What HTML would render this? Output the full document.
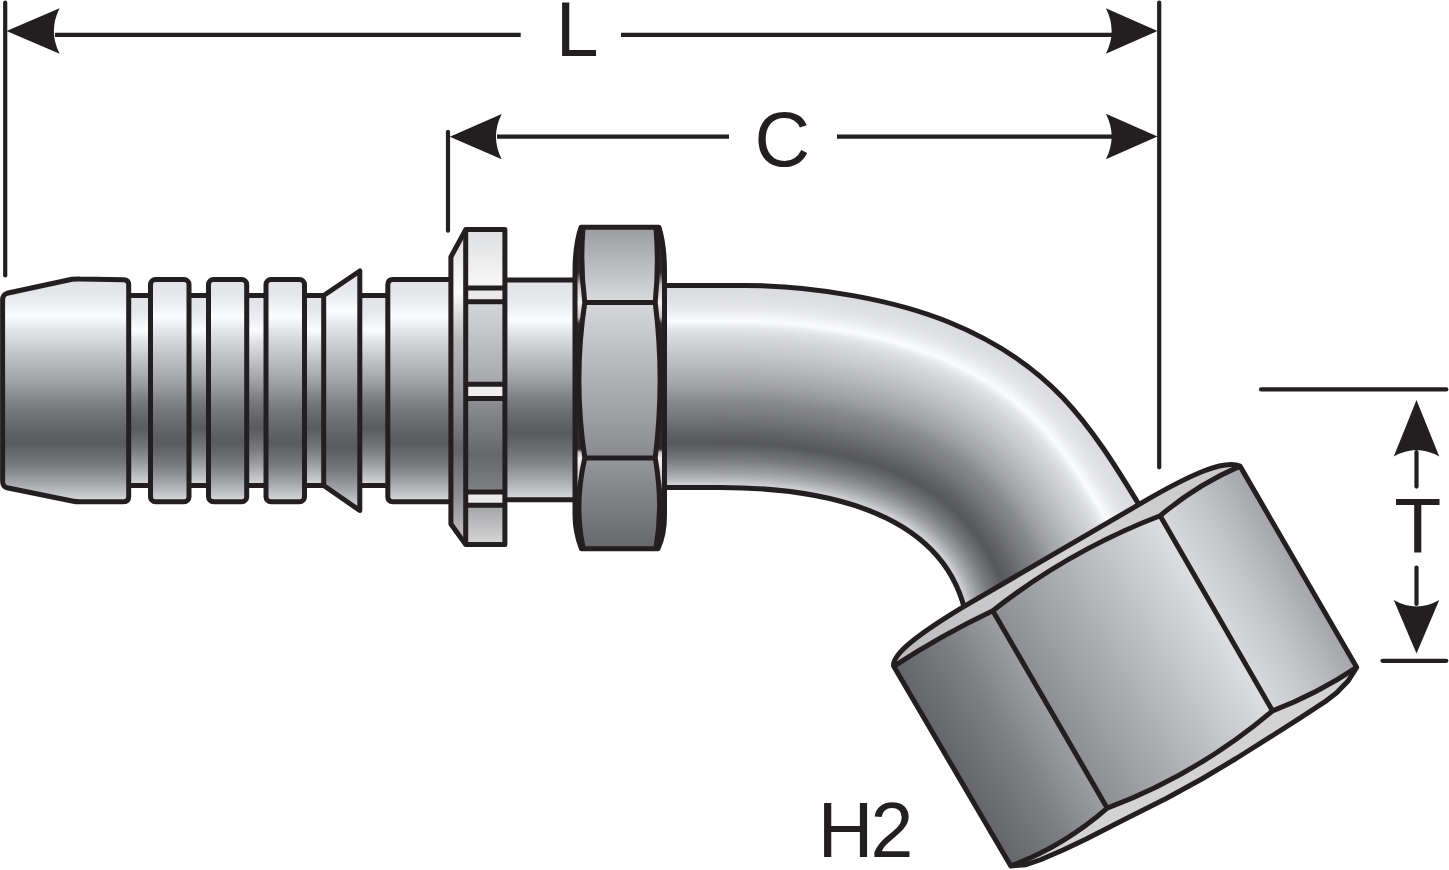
<!DOCTYPE html>
<html><head><meta charset="utf-8"><style>
html,body{margin:0;padding:0;background:#fff;width:1449px;height:870px;overflow:hidden}
svg{display:block}
</style></head><body>
<svg width="1449" height="870" viewBox="0 0 1449 870">
<defs><linearGradient id="cyl" x1="0" y1="0" x2="0" y2="1"><stop offset="0.0000" stop-color="#e1e2e5"/><stop offset="0.0700" stop-color="#e6e7ea"/><stop offset="0.1150" stop-color="#eeeff2"/><stop offset="0.1650" stop-color="#fcfdff"/><stop offset="0.1850" stop-color="#f5f6f9"/><stop offset="0.2270" stop-color="#e4e5e8"/><stop offset="0.2720" stop-color="#d7d8db"/><stop offset="0.3170" stop-color="#c9cacd"/><stop offset="0.3620" stop-color="#bcbdc0"/><stop offset="0.4070" stop-color="#b0b1b4"/><stop offset="0.4520" stop-color="#a3a4a7"/><stop offset="0.4970" stop-color="#959699"/><stop offset="0.5420" stop-color="#848588"/><stop offset="0.5900" stop-color="#76777a"/><stop offset="0.6400" stop-color="#6b6c6f"/><stop offset="0.6900" stop-color="#616265"/><stop offset="0.7350" stop-color="#5a5b5e"/><stop offset="0.7900" stop-color="#6a6b6e"/><stop offset="0.8350" stop-color="#7a7b7e"/><stop offset="0.8800" stop-color="#919295"/><stop offset="0.9250" stop-color="#abacaf"/><stop offset="0.9700" stop-color="#c7c8cb"/><stop offset="1.0000" stop-color="#dbdcdf"/></linearGradient>
<linearGradient id="groove" x1="0" y1="0" x2="0" y2="1"><stop offset="0.0000" stop-color="#e1e2e5"/><stop offset="0.0764" stop-color="#e6e7ea"/><stop offset="0.1255" stop-color="#eeeff2"/><stop offset="0.1800" stop-color="#fcfdff"/><stop offset="0.1982" stop-color="#f5f6f9"/><stop offset="0.2364" stop-color="#e4e5e8"/><stop offset="0.2773" stop-color="#d7d8db"/><stop offset="0.3182" stop-color="#c9cacd"/><stop offset="0.3591" stop-color="#bcbdc0"/><stop offset="0.4000" stop-color="#b0b1b4"/><stop offset="0.4409" stop-color="#a3a4a7"/><stop offset="0.4818" stop-color="#959699"/><stop offset="0.5227" stop-color="#848588"/><stop offset="0.5664" stop-color="#76777a"/><stop offset="0.6118" stop-color="#6b6c6f"/><stop offset="0.6573" stop-color="#616265"/><stop offset="0.6982" stop-color="#5a5b5e"/><stop offset="0.7605" stop-color="#6a6b6e"/><stop offset="0.8118" stop-color="#7a7b7e"/><stop offset="0.8631" stop-color="#919295"/><stop offset="0.9144" stop-color="#abacaf"/><stop offset="0.9658" stop-color="#c7c8cb"/><stop offset="1.0000" stop-color="#dbdcdf"/></linearGradient>
<linearGradient id="tubeL" gradientUnits="userSpaceOnUse" x1="0" y1="285.5" x2="0" y2="487.5"><stop offset="0.0000" stop-color="#d9dadd"/><stop offset="0.0300" stop-color="#dcdde0"/><stop offset="0.0750" stop-color="#e0e1e4"/><stop offset="0.1200" stop-color="#e9eaed"/><stop offset="0.1780" stop-color="#fbfcff"/><stop offset="0.1980" stop-color="#edeef1"/><stop offset="0.2200" stop-color="#e2e3e6"/><stop offset="0.2700" stop-color="#d4d5d8"/><stop offset="0.3200" stop-color="#cacbce"/><stop offset="0.3700" stop-color="#bfc0c3"/><stop offset="0.4200" stop-color="#b3b4b7"/><stop offset="0.4700" stop-color="#a8a9ac"/><stop offset="0.5200" stop-color="#9a9b9e"/><stop offset="0.5670" stop-color="#8a8b8e"/><stop offset="0.6200" stop-color="#7e7f82"/><stop offset="0.6660" stop-color="#737477"/><stop offset="0.7200" stop-color="#646568"/><stop offset="0.7800" stop-color="#57585b"/><stop offset="0.8200" stop-color="#67686b"/><stop offset="0.8640" stop-color="#7a7b7e"/><stop offset="0.9130" stop-color="#97989b"/><stop offset="0.9600" stop-color="#b8b9bc"/><stop offset="0.9800" stop-color="#cccdd0"/><stop offset="1.0000" stop-color="#d5d6d9"/></linearGradient>
<radialGradient id="tubeR" gradientUnits="userSpaceOnUse" cx="790.0" cy="684.0" r="398.5"><stop offset="0.4931" stop-color="#dbdcdf"/><stop offset="0.5083" stop-color="#c7c8cb"/><stop offset="0.5311" stop-color="#abacaf"/><stop offset="0.5539" stop-color="#919295"/><stop offset="0.5767" stop-color="#7a7b7e"/><stop offset="0.5995" stop-color="#6a6b6e"/><stop offset="0.6274" stop-color="#5a5b5e"/><stop offset="0.6502" stop-color="#616265"/><stop offset="0.6756" stop-color="#6b6c6f"/><stop offset="0.7009" stop-color="#76777a"/><stop offset="0.7253" stop-color="#848588"/><stop offset="0.7481" stop-color="#959699"/><stop offset="0.7709" stop-color="#a3a4a7"/><stop offset="0.7937" stop-color="#b0b1b4"/><stop offset="0.8165" stop-color="#bcbdc0"/><stop offset="0.8393" stop-color="#c9cacd"/><stop offset="0.8621" stop-color="#d7d8db"/><stop offset="0.8849" stop-color="#e4e5e8"/><stop offset="0.9062" stop-color="#f5f6f9"/><stop offset="0.9164" stop-color="#fcfdff"/><stop offset="0.9417" stop-color="#eeeff2"/><stop offset="0.9645" stop-color="#e6e7ea"/><stop offset="1.0000" stop-color="#e1e2e5"/></radialGradient>
<linearGradient id="wTop" x1="0" y1="0" x2="0" y2="1"><stop offset="0.0000" stop-color="#dedfe1"/><stop offset="1.0000" stop-color="#f8f8f8"/></linearGradient>
<linearGradient id="wMid1" x1="0" y1="0" x2="0" y2="1"><stop offset="0.0000" stop-color="#d6d7d9"/><stop offset="1.0000" stop-color="#a6a7ab"/></linearGradient>
<linearGradient id="wMid2" x1="0" y1="0" x2="0" y2="1"><stop offset="0.0000" stop-color="#8f9094"/><stop offset="0.6000" stop-color="#66676b"/><stop offset="1.0000" stop-color="#808185"/></linearGradient>
<linearGradient id="wBot" x1="0" y1="0" x2="0" y2="1"><stop offset="0.0000" stop-color="#a3a4a6"/><stop offset="1.0000" stop-color="#d7d7d8"/></linearGradient>
<linearGradient id="wCham" x1="0" y1="0" x2="0" y2="1"><stop offset="0.0000" stop-color="#dcdcdc"/><stop offset="0.1200" stop-color="#efefef"/><stop offset="0.2000" stop-color="#fafafa"/><stop offset="0.3500" stop-color="#b8b8ba"/><stop offset="0.5000" stop-color="#9a9b9e"/><stop offset="0.7000" stop-color="#636467"/><stop offset="0.8500" stop-color="#8f9093"/><stop offset="1.0000" stop-color="#c8c8ca"/></linearGradient>
<linearGradient id="hTop" x1="0" y1="0" x2="0" y2="1"><stop offset="0.0000" stop-color="#9c9da1"/><stop offset="1.0000" stop-color="#dadbdd"/></linearGradient>
<linearGradient id="hMid" x1="0" y1="0" x2="0" y2="1"><stop offset="0.0000" stop-color="#d6d7d9"/><stop offset="0.5000" stop-color="#b0b1b4"/><stop offset="1.0000" stop-color="#898a8e"/></linearGradient>
<linearGradient id="hBot" x1="0" y1="0" x2="0" y2="1"><stop offset="0.0000" stop-color="#96979b"/><stop offset="1.0000" stop-color="#67686c"/></linearGradient>
<linearGradient id="hSide" x1="0" y1="0" x2="0" y2="1"><stop offset="0.0000" stop-color="#2e2b2c"/><stop offset="0.1400" stop-color="#2e2b2c"/><stop offset="0.1800" stop-color="#c4c4c6"/><stop offset="0.2340" stop-color="#f0f0f0"/><stop offset="0.2800" stop-color="#c4c4c6"/><stop offset="0.3000" stop-color="#2e2b2c"/><stop offset="0.6900" stop-color="#2e2b2c"/><stop offset="0.7000" stop-color="#c4c4c6"/><stop offset="0.7200" stop-color="#f0f0f0"/><stop offset="0.7900" stop-color="#c4c4c6"/><stop offset="0.8200" stop-color="#2e2b2c"/><stop offset="1.0000" stop-color="#2e2b2c"/></linearGradient>
<linearGradient id="nL" gradientUnits="userSpaceOnUse" x1="0" y1="0" x2="114" y2="0"><stop offset="0.0000" stop-color="#646569"/><stop offset="0.5000" stop-color="#7c7d81"/><stop offset="1.0000" stop-color="#9e9fa3"/></linearGradient>
<linearGradient id="nM" gradientUnits="userSpaceOnUse" x1="114" y1="0" x2="306" y2="0"><stop offset="0.0000" stop-color="#8d8e91"/><stop offset="1.0000" stop-color="#dedfe1"/></linearGradient>
<linearGradient id="nR" gradientUnits="userSpaceOnUse" x1="306" y1="0" x2="400" y2="0"><stop offset="0.0000" stop-color="#d8d9db"/><stop offset="0.5000" stop-color="#c1c2c5"/><stop offset="1.0000" stop-color="#a4a5a9"/></linearGradient>
<linearGradient id="nCh" gradientUnits="userSpaceOnUse" x1="0" y1="0" x2="400" y2="0"><stop offset="0.0000" stop-color="#b8b9bb"/><stop offset="0.5000" stop-color="#d4d4d5"/><stop offset="1.0000" stop-color="#c8c8c9"/></linearGradient>
<clipPath id="tubeclip"><path d="M700,285.5 L745,285.5 C817.4,285.5 896.9,301.1 947.9,321.8 C1049.2,362.8 1088.2,420.5 1139,505 L1170,560 L990,660 L964,606 C938,504.5 807.7,487.5 720,487.5 L700,487.5 Z"/></clipPath></defs>
<rect width="1449" height="870" fill="#fff"/>
<rect x="655" y="285.5" width="61" height="202" fill="url(#tubeL)"/>
<g clip-path="url(#tubeclip)"><path d="M715.0,280.5 759.0,280.7 792.0,282.5 829.0,286.7 866.0,293.0 901.0,301.2 933.0,310.9 962.0,322.3 990.0,336.0 1013.0,349.6 1034.5,365.0 1054.3,382.0 1073.0,401.2 1092.6,425.0 1114.0,455.0 1140.0,497.0 1150.2,515.0 1143.0,519.0 1124.0,486.6 1102.4,453.0 1084.4,428.0 1067.0,407.0 1048.5,388.0 1029.0,371.3 1008.0,356.4 985.3,343.0 958.0,329.7 930.0,318.7 899.0,309.3 864.0,301.2 828.0,295.0 791.0,290.8 758.0,289.0 715.0,288.9Z" fill="#d9dadd"/><path d="M715.0,287.2 759.0,287.4 791.0,289.1 828.0,293.3 865.0,299.6 900.0,307.8 931.0,317.3 959.0,328.3 987.0,342.0 1010.0,355.7 1031.0,370.7 1050.0,387.1 1068.4,406.0 1085.7,427.0 1103.7,452.0 1125.5,486.0 1144.9,519.0 1141.6,520.0 1123.5,489.0 1101.8,455.0 1084.0,430.1 1066.6,409.0 1048.2,390.0 1029.0,373.5 1008.0,358.4 985.0,344.7 957.0,331.2 929.0,320.2 898.0,310.8 863.0,302.7 827.0,296.6 790.0,292.5 758.0,290.7 715.0,290.5Z" fill="#dadbde"/><path d="M715.0,288.9 758.0,289.0 791.0,290.8 828.0,295.0 864.0,301.2 899.0,309.3 930.0,318.7 958.0,329.7 985.3,343.0 1008.0,356.4 1029.0,371.3 1048.5,388.0 1067.0,407.0 1084.4,428.0 1102.4,453.0 1124.0,486.6 1143.0,519.0 1140.0,520.6 1121.6,489.0 1100.0,455.2 1082.6,431.0 1065.0,409.7 1047.0,391.2 1028.0,374.8 1007.0,359.8 984.0,346.1 957.0,333.0 929.0,322.0 898.0,312.6 863.0,304.4 827.0,298.3 790.0,294.2 758.0,292.4 715.0,292.2Z" fill="#dbdcdf"/><path d="M715.0,290.5 758.0,290.7 790.0,292.5 827.0,296.6 863.0,302.7 898.0,310.8 929.0,320.2 957.0,331.2 985.0,344.7 1008.0,358.4 1029.0,373.5 1048.2,390.0 1066.6,409.0 1084.0,430.1 1101.8,455.0 1123.5,489.0 1141.6,520.0 1138.9,522.0 1120.9,491.0 1099.2,457.0 1081.3,432.0 1064.0,411.1 1046.0,392.6 1026.8,376.0 1006.0,361.1 983.0,347.5 956.0,334.4 928.0,323.4 897.0,314.1 862.0,306.0 826.0,299.9 790.0,295.9 758.0,294.1 715.0,293.9Z" fill="#dcdde0"/><path d="M715.0,292.2 758.0,292.4 790.0,294.2 827.0,298.3 863.0,304.4 898.0,312.6 929.0,322.0 957.0,333.0 984.0,346.1 1007.0,359.8 1028.0,374.8 1047.0,391.2 1065.0,409.7 1082.6,431.0 1100.0,455.2 1121.6,489.0 1140.0,520.6 1137.5,523.0 1119.6,492.0 1098.0,458.1 1080.0,433.0 1063.0,412.5 1045.0,393.9 1026.0,377.5 1005.0,362.5 982.1,349.0 955.0,335.9 927.0,324.9 896.0,315.5 862.0,307.7 826.0,301.6 790.0,297.6 758.0,295.8 715.0,295.6Z" fill="#dddee1"/><path d="M715.0,293.9 758.0,294.1 790.0,295.9 826.0,299.9 862.0,306.0 897.0,314.1 928.0,323.4 956.0,334.4 983.0,347.5 1006.0,361.1 1026.8,376.0 1046.0,392.6 1064.0,411.1 1081.3,432.0 1099.2,457.0 1120.9,491.0 1138.9,522.0 1136.0,523.7 1118.3,493.0 1097.0,459.6 1079.4,435.0 1062.1,414.0 1044.0,395.3 1025.0,378.9 1004.2,364.0 982.0,350.8 955.0,337.7 927.0,326.7 896.0,317.3 862.0,309.4 826.0,303.3 790.0,299.3 758.0,297.5 715.0,297.3Z" fill="#dddee1"/><path d="M715.0,295.6 758.0,295.8 790.0,297.6 826.0,301.6 862.0,307.7 896.0,315.5 927.0,324.9 955.0,335.9 982.1,349.0 1005.0,362.5 1026.0,377.5 1045.0,393.9 1063.0,412.5 1080.0,433.0 1098.0,458.1 1119.6,492.0 1137.5,523.0 1134.2,524.0 1116.3,493.0 1095.3,460.0 1078.0,435.8 1060.8,415.0 1043.0,396.7 1023.7,380.0 1003.0,365.2 980.6,352.0 954.0,339.1 926.0,328.2 895.0,318.8 861.0,310.9 826.0,305.0 790.0,301.0 758.0,299.2 715.0,299.0Z" fill="#dedfe2"/><path d="M715.0,297.3 758.0,297.5 790.0,299.3 826.0,303.3 862.0,309.4 896.0,317.3 927.0,326.7 955.0,337.7 982.0,350.8 1004.2,364.0 1025.0,378.9 1044.0,395.3 1062.1,414.0 1079.4,435.0 1097.0,459.6 1118.3,493.0 1136.0,523.7 1132.9,525.0 1115.6,495.0 1094.7,462.0 1077.0,437.2 1060.0,416.6 1042.0,398.0 1023.0,381.6 1002.6,367.0 980.0,353.6 954.0,341.0 926.0,330.0 895.0,320.6 861.0,312.7 826.0,306.7 790.0,302.7 758.0,300.9 715.0,300.6Z" fill="#dfe0e3"/><path d="M715.0,299.0 758.0,299.2 790.0,301.0 826.0,305.0 861.0,310.9 895.0,318.8 926.0,328.2 954.0,339.1 980.6,352.0 1003.0,365.2 1023.7,380.0 1043.0,396.7 1060.8,415.0 1078.0,435.8 1095.3,460.0 1116.3,493.0 1134.2,524.0 1131.5,526.0 1114.3,496.0 1093.4,463.0 1076.0,438.6 1059.0,418.0 1041.0,399.4 1022.0,383.0 1001.0,368.0 979.0,355.0 952.1,342.0 925.0,331.4 894.0,322.0 860.0,314.2 825.0,308.3 789.0,304.3 757.0,302.5 715.0,302.3Z" fill="#e0e1e4"/><path d="M715.0,300.6 758.0,300.9 790.0,302.7 826.0,306.7 861.0,312.7 895.0,320.6 926.0,330.0 954.0,341.0 980.0,353.6 1002.6,367.0 1023.0,381.6 1042.0,398.0 1060.0,416.6 1077.0,437.2 1094.7,462.0 1115.6,495.0 1132.9,525.0 1130.0,526.7 1113.0,497.0 1092.1,464.0 1075.0,440.0 1057.7,419.0 1040.0,400.7 1021.0,384.3 1000.0,369.4 978.0,356.4 951.0,343.4 924.0,332.9 893.0,323.5 860.0,315.9 825.0,310.0 789.0,306.0 757.0,304.2 715.0,304.0Z" fill="#e1e2e5"/><path d="M715.0,302.3 757.0,302.5 789.0,304.3 825.0,308.3 860.0,314.2 894.0,322.0 925.0,331.4 952.1,342.0 979.0,355.0 1001.0,368.0 1022.0,383.0 1041.0,399.4 1059.0,418.0 1076.0,438.6 1093.4,463.0 1114.3,496.0 1131.5,526.0 1128.8,528.0 1111.7,498.0 1091.0,465.3 1073.7,441.0 1056.4,420.0 1038.9,402.0 1020.0,385.7 1000.0,371.4 977.4,358.0 951.0,345.2 923.0,334.3 892.0,325.0 859.0,317.5 824.0,311.6 789.0,307.7 757.0,305.9 715.0,305.7Z" fill="#e3e4e7"/><path d="M715.0,304.0 757.0,304.2 789.0,306.0 825.0,310.0 860.0,315.9 893.0,323.5 924.0,332.9 951.0,343.4 978.0,356.4 1000.0,369.4 1021.0,384.3 1040.0,400.7 1057.7,419.0 1075.0,440.0 1092.1,464.0 1113.0,497.0 1130.0,526.7 1127.0,528.2 1110.4,499.0 1090.2,467.0 1073.0,442.8 1055.9,422.0 1038.0,403.5 1019.0,387.1 999.0,372.8 977.0,359.7 950.8,347.0 923.0,336.1 892.8,327.0 859.0,319.2 824.0,313.3 789.0,309.4 757.0,307.6 715.0,307.4Z" fill="#e4e5e8"/><path d="M715.0,305.7 757.0,305.9 789.0,307.7 824.0,311.6 859.0,317.5 892.0,325.0 923.0,334.3 951.0,345.2 977.4,358.0 1000.0,371.4 1020.0,385.7 1038.9,402.0 1056.4,420.0 1073.7,441.0 1091.0,465.3 1111.7,498.0 1128.8,528.0 1125.5,529.0 1109.1,500.0 1088.9,468.0 1071.8,444.0 1054.6,423.0 1037.0,404.8 1018.0,388.4 998.0,374.1 976.0,361.1 950.0,348.5 923.0,337.9 893.0,328.8 859.0,320.9 824.0,315.0 789.0,311.1 757.0,309.3 715.0,309.1Z" fill="#e6e7ea"/><path d="M715.0,307.4 757.0,307.6 789.0,309.4 824.0,313.3 859.0,319.2 892.8,327.0 923.0,336.1 950.8,347.0 977.0,359.7 999.0,372.8 1019.0,387.1 1038.0,403.5 1055.9,422.0 1073.0,442.8 1090.2,467.0 1110.4,499.0 1127.0,528.2 1124.1,530.0 1107.7,501.0 1087.6,469.0 1070.5,445.0 1053.3,424.0 1035.8,406.0 1017.0,389.8 997.0,375.5 975.0,362.5 949.0,349.9 922.0,339.4 891.0,330.0 858.0,322.4 823.0,316.5 788.0,312.7 757.0,311.0 715.0,310.7Z" fill="#e7e8eb"/><path d="M715.0,309.1 757.0,309.3 789.0,311.1 824.0,315.0 859.0,320.9 893.0,328.8 923.0,337.9 950.0,348.5 976.0,361.1 998.0,374.1 1018.0,388.4 1037.0,404.8 1054.6,423.0 1071.8,444.0 1088.9,468.0 1109.1,500.0 1125.5,529.0 1122.8,531.0 1106.4,502.0 1086.3,470.0 1069.0,445.7 1052.0,425.1 1034.4,407.0 1016.0,391.1 996.0,376.9 974.0,363.9 948.0,351.4 921.0,340.8 891.0,331.8 858.0,324.2 823.0,318.3 788.0,314.4 757.0,312.7 715.0,312.4Z" fill="#e9eaed"/><path d="M715.0,310.7 757.0,311.0 788.0,312.7 823.0,316.5 858.0,322.4 891.0,330.0 922.0,339.4 949.0,349.9 975.0,362.5 997.0,375.5 1017.0,389.8 1035.8,406.0 1053.3,424.0 1070.5,445.0 1087.6,469.0 1107.7,501.0 1124.1,530.0 1121.4,532.0 1105.1,503.0 1085.0,471.0 1067.9,447.0 1051.0,426.5 1034.0,408.9 1015.0,392.5 995.0,378.2 973.0,365.3 947.0,352.8 920.0,342.3 890.0,333.3 857.0,325.7 823.0,320.0 788.0,316.1 757.0,314.4 715.0,314.1Z" fill="#ecedf0"/><path d="M715.0,312.4 757.0,312.7 788.0,314.4 823.0,318.3 858.0,324.2 891.0,331.8 921.0,340.8 948.0,351.4 974.0,363.9 996.0,376.9 1016.0,391.1 1034.4,407.0 1052.0,425.1 1069.0,445.7 1086.3,470.0 1106.4,502.0 1122.8,531.0 1120.0,532.9 1104.4,505.0 1084.3,473.0 1067.3,449.0 1050.1,428.0 1032.7,410.0 1014.2,394.0 994.6,380.0 973.0,367.2 947.0,354.6 920.0,344.1 890.0,335.0 857.0,327.4 823.0,321.7 788.0,317.8 757.0,316.1 715.0,315.8Z" fill="#eeeff2"/><path d="M715.0,314.1 757.0,314.4 788.0,316.1 823.0,320.0 857.0,325.7 890.0,333.3 920.0,342.3 947.0,352.8 973.0,365.3 995.0,378.2 1015.0,392.5 1034.0,408.9 1051.0,426.5 1067.9,447.0 1085.0,471.0 1105.1,503.0 1121.4,532.0 1118.7,534.0 1103.1,506.0 1083.1,474.0 1066.0,449.9 1049.0,429.2 1031.3,411.0 1013.0,395.2 993.0,381.0 972.0,368.6 946.0,356.0 919.0,345.5 889.0,336.5 857.0,329.2 823.0,323.4 788.0,319.5 757.0,317.7 715.0,317.5Z" fill="#f1f2f5"/><path d="M715.0,315.8 757.0,316.1 788.0,317.8 823.0,321.7 857.0,327.4 890.0,335.0 920.0,344.1 947.0,354.6 973.0,367.2 994.6,380.0 1014.2,394.0 1032.7,410.0 1050.1,428.0 1067.3,449.0 1084.3,473.0 1104.4,505.0 1120.0,532.9 1116.8,534.0 1101.1,506.0 1081.8,475.0 1064.7,451.0 1048.0,430.6 1031.0,413.0 1012.5,397.0 993.0,383.0 971.0,370.0 945.0,357.5 918.0,347.0 888.0,338.0 856.0,330.7 822.0,325.0 787.0,321.1 756.0,319.4 715.0,319.2Z" fill="#f4f5f8"/><path d="M715.0,317.5 757.0,317.7 788.0,319.5 823.0,323.4 857.0,329.2 889.0,336.5 919.0,345.5 946.0,356.0 972.0,368.6 993.0,381.0 1013.0,395.2 1031.3,411.0 1049.0,429.2 1066.0,449.9 1083.1,474.0 1103.1,506.0 1118.7,534.0 1115.4,535.0 1099.8,507.0 1080.5,476.0 1063.4,452.0 1047.0,432.0 1029.6,414.0 1011.1,398.0 991.4,384.0 970.0,371.4 944.3,359.0 918.0,348.8 888.0,339.8 856.0,332.4 822.0,326.7 787.0,322.8 756.0,321.1 715.0,320.8Z" fill="#f6f7fa"/><path d="M715.0,319.2 756.0,319.4 787.0,321.1 822.0,325.0 856.0,330.7 888.0,338.0 918.0,347.0 945.0,357.5 971.0,370.0 993.0,383.0 1012.5,397.0 1031.0,413.0 1048.0,430.6 1064.7,451.0 1081.8,475.0 1101.1,506.0 1116.8,534.0 1114.0,536.0 1098.5,508.0 1079.2,477.0 1062.1,453.0 1045.7,433.0 1028.3,415.0 1010.0,399.3 990.0,385.1 969.0,372.8 943.0,360.3 917.0,350.2 887.0,341.3 855.0,333.9 821.0,328.2 787.0,324.5 756.0,322.8 715.0,322.5Z" fill="#f9fafd"/><path d="M715.0,320.8 756.0,321.1 787.0,322.8 822.0,326.7 856.0,332.4 888.0,339.8 918.0,348.8 944.3,359.0 970.0,371.4 991.4,384.0 1011.1,398.0 1029.6,414.0 1047.0,432.0 1063.4,452.0 1080.5,476.0 1099.8,507.0 1115.4,535.0 1112.6,537.0 1097.8,510.0 1078.5,479.0 1061.6,455.0 1045.0,434.7 1028.0,417.1 1010.0,401.4 990.0,387.1 969.0,374.7 944.0,362.6 917.0,352.0 887.0,343.0 855.0,335.7 821.0,329.9 787.0,326.2 756.0,324.5 715.0,324.2Z" fill="#fafbfe"/><path d="M715.0,322.5 756.0,322.8 787.0,324.5 821.0,328.2 855.0,333.9 887.0,341.3 917.0,350.2 943.0,360.3 969.0,372.8 990.0,385.1 1010.0,399.3 1028.3,415.0 1045.7,433.0 1062.1,453.0 1079.2,477.0 1098.5,508.0 1114.0,536.0 1111.0,537.5 1095.9,510.0 1077.2,480.0 1060.3,456.0 1043.9,436.0 1027.0,418.4 1009.0,402.8 989.0,388.5 967.8,376.0 942.0,363.6 916.0,353.5 886.0,344.5 854.0,337.2 820.0,331.5 786.0,327.8 756.0,326.2 715.0,325.9Z" fill="#f4f5f8"/><path d="M715.0,324.2 756.0,324.5 787.0,326.2 821.0,329.9 855.0,335.7 887.0,343.0 917.0,352.0 944.0,362.6 969.0,374.7 990.0,387.1 1010.0,401.4 1028.0,417.1 1045.0,434.7 1061.6,455.0 1078.5,479.0 1097.8,510.0 1112.6,537.0 1109.9,539.0 1095.1,512.0 1076.6,482.0 1059.7,458.0 1043.0,437.5 1026.0,419.8 1008.0,404.2 988.2,390.0 967.0,377.5 942.0,365.4 915.2,355.0 886.0,346.3 854.0,338.9 820.0,333.2 786.0,329.5 756.0,327.9 715.0,327.6Z" fill="#eff0f3"/><path d="M715.0,325.9 756.0,326.2 786.0,327.8 820.0,331.5 854.0,337.2 886.0,344.5 916.0,353.5 942.0,363.6 967.8,376.0 989.0,388.5 1009.0,402.8 1027.0,418.4 1043.9,436.0 1060.3,456.0 1077.2,480.0 1095.9,510.0 1111.0,537.5 1108.5,540.0 1093.8,513.0 1075.3,483.0 1058.4,459.0 1042.0,438.8 1025.0,421.1 1007.0,405.5 988.0,391.9 966.2,379.0 941.0,366.9 915.0,356.7 886.0,348.0 854.0,340.7 820.0,334.9 786.0,331.2 756.0,329.5 715.0,329.3Z" fill="#eaebee"/><path d="M715.0,327.6 756.0,327.9 786.0,329.5 820.0,333.2 854.0,338.9 886.0,346.3 915.2,355.0 942.0,365.4 967.0,377.5 988.2,390.0 1008.0,404.2 1026.0,419.8 1043.0,437.5 1059.7,458.0 1076.6,482.0 1095.1,512.0 1109.9,539.0 1106.6,540.0 1091.9,513.0 1073.3,483.0 1057.0,459.8 1040.0,439.1 1023.0,421.6 1005.0,406.1 986.0,392.6 965.0,380.3 940.0,368.3 914.0,358.2 885.0,349.5 853.0,342.2 820.0,336.6 786.0,332.9 756.0,331.2 715.0,330.9Z" fill="#e6e7ea"/><path d="M715.0,329.3 756.0,329.5 786.0,331.2 820.0,334.9 854.0,340.7 886.0,348.0 915.0,356.7 941.0,366.9 966.2,379.0 988.0,391.9 1007.0,405.5 1025.0,421.1 1042.0,438.8 1058.4,459.0 1075.3,483.0 1093.8,513.0 1108.5,540.0 1105.3,541.0 1091.0,514.7 1072.7,485.0 1056.0,461.2 1039.5,441.0 1023.0,423.9 1005.0,408.2 986.0,394.6 964.6,382.0 940.0,370.1 914.0,360.0 885.0,351.3 853.0,343.9 820.0,338.4 786.0,334.6 756.0,332.9 715.0,332.6Z" fill="#e2e3e6"/><path d="M715.0,330.9 756.0,331.2 786.0,332.9 820.0,336.6 853.0,342.2 885.0,349.5 914.0,358.2 940.0,368.3 965.0,380.3 986.0,392.6 1005.0,406.1 1023.0,421.6 1040.0,439.1 1057.0,459.8 1073.3,483.0 1091.9,513.0 1106.6,540.0 1103.9,542.0 1089.8,516.0 1072.0,486.9 1055.3,463.0 1039.0,443.0 1022.0,425.2 1004.5,410.0 985.0,396.0 964.0,383.6 939.0,371.5 913.0,361.5 884.0,352.8 852.0,345.4 819.0,339.9 785.0,336.2 755.0,334.6 715.0,334.3Z" fill="#dfe0e3"/><path d="M715.0,332.6 756.0,332.9 786.0,334.6 820.0,338.4 853.0,343.9 885.0,351.3 914.0,360.0 940.0,370.1 964.6,382.0 986.0,394.6 1005.0,408.2 1023.0,423.9 1039.5,441.0 1056.0,461.2 1072.7,485.0 1091.0,514.7 1105.3,541.0 1102.5,543.0 1088.5,517.0 1070.7,488.0 1054.0,464.1 1037.7,444.0 1021.0,426.6 1003.1,411.0 984.0,397.4 963.0,385.0 938.0,373.0 912.0,362.9 883.0,354.3 852.0,347.2 819.0,341.6 785.0,337.9 755.0,336.3 715.0,336.0Z" fill="#dddee1"/><path d="M715.0,334.3 755.0,334.6 785.0,336.2 819.0,339.9 852.0,345.4 884.0,352.8 913.0,361.5 939.0,371.5 964.0,383.6 985.0,396.0 1004.5,410.0 1022.0,425.2 1039.0,443.0 1055.3,463.0 1072.0,486.9 1089.8,516.0 1103.9,542.0 1101.0,543.8 1087.0,517.7 1069.0,488.3 1052.7,465.0 1036.4,445.0 1020.0,427.9 1002.0,412.3 983.0,398.7 962.0,386.4 937.0,374.4 911.0,364.4 882.0,355.8 851.0,348.7 818.0,343.2 785.0,339.6 755.0,338.0 715.0,337.7Z" fill="#dbdcdf"/><path d="M715.0,336.0 755.0,336.3 785.0,337.9 819.0,341.6 852.0,347.2 883.0,354.3 912.0,362.9 938.0,373.0 963.0,385.0 984.0,397.4 1003.1,411.0 1021.0,426.6 1037.7,444.0 1054.0,464.1 1070.7,488.0 1088.5,517.0 1102.5,543.0 1099.7,545.0 1085.8,519.0 1068.1,490.0 1051.4,466.0 1035.1,446.0 1018.7,429.0 1001.0,413.7 982.0,400.1 961.4,388.0 937.0,376.2 911.0,366.2 882.0,357.5 851.0,350.4 818.0,344.9 785.0,341.3 755.0,339.7 715.0,339.4Z" fill="#d8d9dc"/><path d="M715.0,337.7 755.0,338.0 785.0,339.6 818.0,343.2 851.0,348.7 882.0,355.8 911.0,364.4 937.0,374.4 962.0,386.4 983.0,398.7 1002.0,412.3 1020.0,427.9 1036.4,445.0 1052.7,465.0 1069.0,488.3 1087.0,517.7 1101.0,543.8 1097.9,545.0 1083.9,519.0 1066.8,491.0 1050.8,468.0 1034.0,447.3 1017.3,430.0 1000.0,415.0 981.0,401.5 960.0,389.2 935.0,377.2 910.0,367.6 881.0,359.0 850.0,352.0 818.0,346.6 785.0,343.0 755.0,341.3 715.0,341.0Z" fill="#d6d7da"/><path d="M715.0,339.4 755.0,339.7 785.0,341.3 818.0,344.9 851.0,350.4 882.0,357.5 911.0,366.2 937.0,376.2 961.4,388.0 982.0,400.1 1001.0,413.7 1018.7,429.0 1035.1,446.0 1051.4,466.0 1068.1,490.0 1085.8,519.0 1099.7,545.0 1096.5,546.0 1082.6,520.0 1065.5,492.0 1049.5,469.0 1033.3,449.0 1017.0,432.0 999.0,416.4 980.2,403.0 959.8,391.0 935.0,379.1 910.0,369.4 881.0,360.8 850.0,353.7 818.0,348.3 785.0,344.7 755.0,343.0 715.0,342.7Z" fill="#d4d5d8"/><path d="M715.0,341.0 755.0,341.3 785.0,343.0 818.0,346.6 850.0,352.0 881.0,359.0 910.0,367.6 935.0,377.2 960.0,389.2 981.0,401.5 1000.0,415.0 1017.3,430.0 1034.0,447.3 1050.8,468.0 1066.8,491.0 1083.9,519.0 1097.9,545.0 1095.0,546.8 1081.3,521.0 1064.2,493.0 1048.2,470.0 1032.0,450.1 1015.6,433.0 998.3,418.0 980.0,404.9 959.0,392.5 934.0,380.5 909.0,370.9 881.0,362.5 850.0,355.4 818.0,350.0 785.0,346.4 755.0,344.7 715.0,344.4Z" fill="#d2d3d6"/><path d="M715.0,342.7 755.0,343.0 785.0,344.7 818.0,348.3 850.0,353.7 881.0,360.8 910.0,369.4 935.0,379.1 959.8,391.0 980.2,403.0 999.0,416.4 1017.0,432.0 1033.3,449.0 1049.5,469.0 1065.5,492.0 1082.6,520.0 1096.5,546.0 1093.7,548.0 1080.0,522.0 1063.0,494.1 1047.0,471.1 1031.0,451.4 1014.2,434.0 997.0,419.1 978.6,406.0 958.0,393.9 933.2,382.0 908.0,372.3 880.0,364.0 849.0,357.0 817.0,351.6 784.0,348.0 754.0,346.4 715.0,346.1Z" fill="#d1d2d5"/><path d="M715.0,344.4 755.0,344.7 785.0,346.4 818.0,350.0 850.0,355.4 881.0,362.5 909.0,370.9 934.0,380.5 959.0,392.5 980.0,404.9 998.3,418.0 1015.6,433.0 1032.0,450.1 1048.2,470.0 1064.2,493.0 1081.3,521.0 1095.0,546.8 1092.0,548.4 1078.6,523.0 1062.0,495.6 1046.0,472.6 1030.0,452.8 1013.9,436.0 996.0,420.5 977.1,407.0 957.0,395.3 933.0,383.8 908.0,374.1 880.0,365.8 849.0,358.7 817.0,353.3 784.0,349.7 754.0,348.1 715.0,347.8Z" fill="#cfd0d3"/><path d="M715.0,346.1 754.0,346.4 784.0,348.0 817.0,351.6 849.0,357.0 880.0,364.0 908.0,372.3 933.2,382.0 958.0,393.9 978.6,406.0 997.0,419.1 1014.2,434.0 1031.0,451.4 1047.0,471.1 1063.0,494.1 1080.0,522.0 1093.7,548.0 1090.9,550.0 1077.9,525.0 1061.0,497.0 1045.0,474.0 1029.0,454.2 1013.0,437.5 996.0,422.6 977.0,409.0 957.0,397.2 933.0,385.6 908.0,375.9 880.0,367.5 849.0,360.4 817.0,355.0 784.0,351.4 754.0,349.8 715.0,349.5Z" fill="#cdced1"/><path d="M715.0,347.8 754.0,348.1 784.0,349.7 817.0,353.3 849.0,358.7 880.0,365.8 908.0,374.1 933.0,383.8 957.0,395.3 977.1,407.0 996.0,420.5 1013.9,436.0 1030.0,452.8 1046.0,472.6 1062.0,495.6 1078.6,523.0 1092.0,548.4 1089.1,550.0 1076.0,525.0 1059.7,498.0 1044.0,475.4 1028.0,455.6 1012.0,438.8 995.0,424.0 976.0,410.3 956.0,398.6 932.0,387.0 907.0,377.4 879.0,369.0 848.0,361.9 816.0,356.6 784.0,353.1 754.0,351.4 715.0,351.1Z" fill="#cbcccf"/><path d="M715.0,349.5 754.0,349.8 784.0,351.4 817.0,355.0 849.0,360.4 880.0,367.5 908.0,375.9 933.0,385.6 957.0,397.2 977.0,409.0 996.0,422.6 1013.0,437.5 1029.0,454.2 1045.0,474.0 1061.0,497.0 1077.9,525.0 1090.9,550.0 1087.7,551.0 1074.6,526.0 1058.4,499.0 1043.0,476.8 1027.0,456.9 1011.0,440.2 994.0,425.3 975.4,412.0 955.0,400.0 931.0,388.5 906.0,378.8 878.0,370.5 848.0,363.7 816.0,358.3 784.0,354.8 754.0,353.1 715.0,352.8Z" fill="#cacbce"/><path d="M715.0,351.1 754.0,351.4 784.0,353.1 816.0,356.6 848.0,361.9 879.0,369.0 907.0,377.4 932.0,387.0 956.0,398.6 976.0,410.3 995.0,424.0 1012.0,438.8 1028.0,455.6 1044.0,475.4 1059.7,498.0 1076.0,525.0 1089.1,550.0 1086.3,552.0 1073.3,527.0 1057.1,500.0 1041.9,478.0 1025.7,458.0 1010.0,441.5 993.0,426.7 974.0,413.1 954.0,401.4 930.0,389.9 905.0,380.3 877.0,372.0 847.0,365.2 815.0,359.9 783.0,356.4 754.0,354.8 715.0,354.5Z" fill="#c8c9cc"/><path d="M715.0,352.8 754.0,353.1 784.0,354.8 816.0,358.3 848.0,363.7 878.0,370.5 906.0,378.8 931.0,388.5 955.0,400.0 975.4,412.0 994.0,425.3 1011.0,440.2 1027.0,456.9 1043.0,476.8 1058.4,499.0 1074.6,526.0 1087.7,551.0 1084.9,553.0 1072.0,528.0 1056.0,501.3 1040.6,479.0 1024.4,459.0 1009.0,442.9 991.9,428.0 973.0,414.5 953.0,402.8 929.0,391.3 905.0,382.1 877.0,373.8 847.0,366.9 815.0,361.6 783.0,358.1 754.0,356.5 715.0,356.2Z" fill="#c6c7ca"/><path d="M715.0,354.5 754.0,354.8 783.0,356.4 815.0,359.9 847.0,365.2 877.0,372.0 905.0,380.3 930.0,389.9 954.0,401.4 974.0,413.1 993.0,426.7 1010.0,441.5 1025.7,458.0 1041.9,478.0 1057.1,500.0 1073.3,527.0 1086.3,552.0 1083.5,554.0 1071.2,530.0 1055.1,503.0 1040.0,481.0 1024.0,461.0 1008.0,444.2 991.0,429.4 973.0,416.5 953.0,404.7 930.0,393.6 905.0,383.9 877.0,375.5 847.0,368.7 815.0,363.3 783.0,359.8 754.0,358.2 715.0,357.9Z" fill="#c4c5c8"/><path d="M715.0,356.2 754.0,356.5 783.0,358.1 815.0,361.6 847.0,366.9 877.0,373.8 905.0,382.1 929.0,391.3 953.0,402.8 973.0,414.5 991.9,428.0 1009.0,442.9 1024.4,459.0 1040.6,479.0 1056.0,501.3 1072.0,528.0 1084.9,553.0 1082.0,554.8 1069.9,531.0 1054.0,504.3 1038.7,482.0 1023.0,462.4 1007.0,445.6 990.3,431.0 972.0,417.9 952.0,406.1 929.0,395.0 904.0,385.3 876.0,377.0 846.0,370.2 815.0,365.0 783.0,361.5 754.0,359.9 715.0,359.6Z" fill="#c2c3c6"/><path d="M715.0,357.9 754.0,358.2 783.0,359.8 815.0,363.3 847.0,368.7 877.0,375.5 905.0,383.9 930.0,393.6 953.0,404.7 973.0,416.5 991.0,429.4 1008.0,444.2 1024.0,461.0 1040.0,481.0 1055.1,503.0 1071.2,530.0 1083.5,554.0 1080.7,556.0 1068.5,532.0 1053.0,505.7 1038.0,483.8 1022.0,463.8 1006.0,447.0 989.0,432.1 971.0,419.2 951.0,407.5 927.0,396.0 903.0,386.8 876.0,378.8 846.0,371.9 815.0,366.7 783.0,363.2 754.0,361.6 715.0,361.2Z" fill="#c1c2c5"/><path d="M715.0,359.6 754.0,359.9 783.0,361.5 815.0,365.0 846.0,370.2 876.0,377.0 904.0,385.3 929.0,395.0 952.0,406.1 972.0,417.9 990.3,431.0 1007.0,445.6 1023.0,462.4 1038.7,482.0 1054.0,504.3 1069.9,531.0 1082.0,554.8 1078.8,556.0 1066.6,532.0 1051.2,506.0 1036.1,484.0 1020.9,465.0 1005.0,448.3 988.0,433.5 970.0,420.6 950.0,408.9 926.0,397.4 902.0,388.3 875.0,380.2 845.0,373.4 814.0,368.3 782.0,364.8 753.0,363.2 715.0,362.9Z" fill="#bfc0c3"/><path d="M715.0,361.2 754.0,361.6 783.0,363.2 815.0,366.7 846.0,371.9 876.0,378.8 903.0,386.8 927.0,396.0 951.0,407.5 971.0,419.2 989.0,432.1 1006.0,447.0 1022.0,463.8 1038.0,483.8 1053.0,505.7 1068.5,532.0 1080.7,556.0 1077.4,557.0 1065.3,533.0 1050.0,507.1 1035.0,485.3 1019.5,466.0 1004.0,449.7 987.0,434.8 969.0,422.0 949.0,410.2 925.4,399.0 901.0,389.7 874.0,381.7 844.1,375.0 813.0,369.9 782.0,366.5 753.0,364.9 715.0,364.6Z" fill="#bdbec1"/><path d="M715.0,362.9 753.0,363.2 782.0,364.8 814.0,368.3 845.0,373.4 875.0,380.2 902.0,388.3 926.0,397.4 950.0,408.9 970.0,420.6 988.0,433.5 1005.0,448.3 1020.9,465.0 1036.1,484.0 1051.2,506.0 1066.6,532.0 1078.8,556.0 1076.0,557.9 1064.0,534.0 1049.0,508.6 1034.0,486.7 1018.2,467.0 1003.0,451.0 986.0,436.2 968.0,423.3 948.7,412.0 925.0,400.7 901.0,391.5 874.0,383.5 844.0,376.7 813.0,371.6 782.0,368.2 753.0,366.6 715.0,366.3Z" fill="#bbbcbf"/><path d="M715.0,364.6 753.0,364.9 782.0,366.5 813.0,369.9 844.1,375.0 874.0,381.7 901.0,389.7 925.4,399.0 949.0,410.2 969.0,422.0 987.0,434.8 1004.0,449.7 1019.5,466.0 1035.0,485.3 1050.0,507.1 1065.3,533.0 1077.4,557.0 1074.6,559.0 1063.2,536.0 1048.0,510.0 1033.0,488.1 1017.8,469.0 1002.0,452.4 985.5,438.0 968.0,425.4 948.0,413.6 925.0,402.5 901.0,393.3 874.0,385.2 844.0,378.4 813.0,373.3 782.0,369.9 753.0,368.3 715.0,368.0Z" fill="#b9babd"/><path d="M715.0,366.3 753.0,366.6 782.0,368.2 813.0,371.6 844.0,376.7 874.0,383.5 901.0,391.5 925.0,400.7 948.7,412.0 968.0,423.3 986.0,436.2 1003.0,451.0 1018.2,467.0 1034.0,486.7 1049.0,508.6 1064.0,534.0 1076.0,557.9 1073.0,559.5 1061.3,536.0 1046.7,511.0 1031.6,489.0 1016.4,470.0 1001.0,453.8 984.1,439.0 966.0,426.1 947.0,415.0 924.0,404.0 900.0,394.8 873.0,386.7 844.0,380.2 813.0,375.0 782.0,371.6 753.0,370.0 715.0,369.7Z" fill="#b7b8bb"/><path d="M715.0,368.0 753.0,368.3 782.0,369.9 813.0,373.3 844.0,378.4 874.0,385.2 901.0,393.3 925.0,402.5 948.0,413.6 968.0,425.4 985.5,438.0 1002.0,452.4 1017.8,469.0 1033.0,488.1 1048.0,510.0 1063.2,536.0 1074.6,559.0 1071.9,561.0 1060.0,537.0 1045.4,512.0 1030.3,490.0 1015.1,471.0 999.9,455.0 983.0,440.3 965.0,427.4 946.0,416.3 923.0,405.4 899.0,396.2 872.0,388.2 843.0,381.7 812.0,376.6 781.0,373.2 753.0,371.7 715.0,371.3Z" fill="#b5b6b9"/><path d="M715.0,369.7 753.0,370.0 782.0,371.6 813.0,375.0 844.0,380.2 873.0,386.7 900.0,394.8 924.0,404.0 947.0,415.0 966.0,426.1 984.1,439.0 1001.0,453.8 1016.4,470.0 1031.6,489.0 1046.7,511.0 1061.3,536.0 1073.0,559.5 1070.0,561.0 1058.6,538.0 1044.1,513.0 1029.0,491.0 1014.0,472.3 998.5,456.0 982.0,441.6 964.3,429.0 945.0,417.7 922.0,406.8 898.0,397.7 871.0,389.7 842.0,383.2 812.0,378.3 781.0,374.9 753.0,373.4 715.0,373.0Z" fill="#b3b4b7"/><path d="M715.0,371.3 753.0,371.7 781.0,373.2 812.0,376.6 843.0,381.7 872.0,388.2 899.0,396.2 923.0,405.4 946.0,416.3 965.0,427.4 983.0,440.3 999.9,455.0 1015.1,471.0 1030.3,490.0 1045.4,512.0 1060.0,537.0 1071.9,561.0 1068.6,562.0 1057.3,539.0 1042.7,514.0 1028.0,492.3 1013.0,473.6 997.1,457.0 981.0,443.0 963.0,430.2 944.0,419.1 921.0,408.2 898.0,399.5 871.0,391.5 842.0,384.9 812.0,380.0 781.0,376.6 753.0,375.1 715.0,374.7Z" fill="#b1b2b5"/><path d="M715.0,373.0 753.0,373.4 781.0,374.9 812.0,378.3 842.0,383.2 871.0,389.7 898.0,397.7 922.0,406.8 945.0,417.7 964.3,429.0 982.0,441.6 998.5,456.0 1014.0,472.3 1029.0,491.0 1044.1,513.0 1058.6,538.0 1070.0,561.0 1067.2,563.0 1055.9,540.0 1041.4,515.0 1027.2,494.0 1012.0,475.0 996.8,459.0 980.8,445.0 963.0,432.2 943.9,421.0 921.0,410.1 898.0,401.3 871.0,393.2 842.0,386.7 812.0,381.7 781.0,378.3 753.0,376.8 715.0,376.4Z" fill="#afb0b3"/><path d="M715.0,374.7 753.0,375.1 781.0,376.6 812.0,380.0 842.0,384.9 871.0,391.5 898.0,399.5 921.0,408.2 944.0,419.1 963.0,430.2 981.0,443.0 997.1,457.0 1013.0,473.6 1028.0,492.3 1042.7,514.0 1057.3,539.0 1068.6,562.0 1065.8,564.0 1054.6,541.0 1040.8,517.0 1026.0,495.2 1011.0,476.4 995.4,460.0 979.4,446.0 962.0,433.6 943.0,422.4 920.0,411.5 897.0,402.7 870.0,394.7 841.0,388.2 811.0,383.3 780.0,379.9 752.0,378.4 715.0,378.1Z" fill="#adaeb1"/><path d="M715.0,376.4 753.0,376.8 781.0,378.3 812.0,381.7 842.0,386.7 871.0,393.2 898.0,401.3 921.0,410.1 943.9,421.0 963.0,432.2 980.8,445.0 996.8,459.0 1012.0,475.0 1027.2,494.0 1041.4,515.0 1055.9,540.0 1067.2,563.0 1064.5,565.0 1053.3,542.0 1039.5,518.0 1025.3,497.0 1010.2,478.0 995.0,461.9 979.0,447.9 961.1,435.0 942.0,423.8 919.2,413.0 896.0,404.2 870.0,396.5 841.0,389.9 811.0,385.0 780.0,381.6 752.0,380.1 715.0,379.8Z" fill="#abacaf"/><path d="M715.0,378.1 752.0,378.4 780.0,379.9 811.0,383.3 841.0,388.2 870.0,394.7 897.0,402.7 920.0,411.5 943.0,422.4 962.0,433.6 979.4,446.0 995.4,460.0 1011.0,476.4 1026.0,495.2 1040.8,517.0 1054.6,541.0 1065.8,564.0 1063.0,565.8 1051.4,542.0 1038.2,519.0 1024.0,498.0 1009.0,479.1 993.7,463.0 977.7,449.0 960.0,436.3 941.0,425.2 918.0,414.3 895.0,405.6 869.0,398.0 840.0,391.5 810.0,386.6 780.0,383.3 752.0,381.8 715.0,381.4Z" fill="#aaabae"/><path d="M715.0,379.8 752.0,380.1 780.0,381.6 811.0,385.0 841.0,389.9 870.0,396.5 896.0,404.2 919.2,413.0 942.0,423.8 961.1,435.0 979.0,447.9 995.0,461.9 1010.2,478.0 1025.3,497.0 1039.5,518.0 1053.3,542.0 1064.5,565.0 1061.7,567.0 1050.0,543.0 1037.0,520.2 1023.0,499.4 1008.4,481.0 993.4,465.0 977.5,451.0 960.0,438.3 941.0,427.2 918.0,416.2 895.0,407.4 869.0,399.7 840.0,393.2 810.0,388.3 780.0,385.0 752.0,383.5 715.0,383.1Z" fill="#a8a9ac"/><path d="M715.0,381.4 752.0,381.8 780.0,383.3 810.0,386.6 840.0,391.5 869.0,398.0 895.0,405.6 918.0,414.3 941.0,425.2 960.0,436.3 977.7,449.0 993.7,463.0 1009.0,479.1 1024.0,498.0 1038.2,519.0 1051.4,542.0 1063.0,565.8 1059.8,567.0 1048.7,544.0 1035.5,521.0 1021.4,500.0 1007.0,481.9 992.0,466.0 976.0,451.9 959.0,439.7 940.0,428.5 917.9,418.0 894.3,409.0 868.0,401.2 840.0,394.9 810.0,390.0 780.0,386.7 752.0,385.2 715.0,384.8Z" fill="#a5a6a9"/><path d="M715.0,383.1 752.0,383.5 780.0,385.0 810.0,388.3 840.0,393.2 869.0,399.7 895.0,407.4 918.0,416.2 941.0,427.2 960.0,438.3 977.5,451.0 993.4,465.0 1008.4,481.0 1023.0,499.4 1037.0,520.2 1050.0,543.0 1061.7,567.0 1058.4,568.0 1047.4,545.0 1034.2,522.0 1020.8,502.0 1006.0,483.2 991.0,467.3 975.0,453.3 958.0,441.1 939.0,429.9 917.0,419.5 894.0,410.7 868.0,403.0 839.0,396.4 809.0,391.6 779.0,388.4 751.0,386.8 715.0,386.5Z" fill="#a3a4a7"/><path d="M715.0,384.8 752.0,385.2 780.0,386.7 810.0,390.0 840.0,394.9 868.0,401.2 894.3,409.0 917.9,418.0 940.0,428.5 959.0,439.7 976.0,451.9 992.0,466.0 1007.0,481.9 1021.4,500.0 1035.5,521.0 1048.7,544.0 1059.8,567.0 1057.0,568.9 1046.0,546.0 1032.9,523.0 1019.5,503.0 1005.0,484.6 990.0,468.7 974.0,454.7 957.0,442.5 938.0,431.3 916.0,420.9 893.0,412.1 867.0,404.5 839.0,398.2 809.0,393.3 779.0,390.1 751.0,388.5 715.0,388.2Z" fill="#a1a2a5"/><path d="M715.0,386.5 751.0,386.8 779.0,388.4 809.0,391.6 839.0,396.4 868.0,403.0 894.0,410.7 917.0,419.5 939.0,429.9 958.0,441.1 975.0,453.3 991.0,467.3 1006.0,483.2 1020.8,502.0 1034.2,522.0 1047.4,545.0 1058.4,568.0 1055.7,570.0 1044.1,546.0 1031.6,524.0 1018.3,504.0 1004.0,486.0 989.0,470.1 973.0,456.0 956.0,443.8 937.0,432.7 915.0,422.3 892.0,413.6 866.0,406.0 838.0,399.7 809.0,395.0 779.0,391.7 751.0,390.2 715.0,389.9Z" fill="#9e9fa2"/><path d="M715.0,388.2 751.0,388.5 779.0,390.1 809.0,393.3 839.0,398.2 867.0,404.5 893.0,412.1 916.0,420.9 938.0,431.3 957.0,442.5 974.0,454.7 990.0,468.7 1005.0,484.6 1019.5,503.0 1032.9,523.0 1046.0,546.0 1057.0,568.9 1054.0,570.4 1042.8,547.0 1030.3,525.0 1017.0,505.0 1002.7,487.0 988.0,471.4 972.0,457.4 955.0,445.2 936.0,434.1 914.0,423.7 891.0,415.1 866.0,407.7 838.0,401.4 809.0,396.7 779.0,393.4 751.0,391.9 715.0,391.5Z" fill="#9c9da0"/><path d="M715.0,389.9 751.0,390.2 779.0,391.7 809.0,395.0 838.0,399.7 866.0,406.0 892.0,413.6 915.0,422.3 937.0,432.7 956.0,443.8 973.0,456.0 989.0,470.1 1004.0,486.0 1018.3,504.0 1031.6,524.0 1044.1,546.0 1055.7,570.0 1052.9,572.0 1041.5,548.0 1029.6,527.0 1016.4,507.0 1002.0,488.7 987.0,472.8 971.3,459.0 954.7,447.0 936.0,436.0 914.0,425.6 891.5,417.0 866.0,409.5 838.0,403.2 809.0,398.4 779.0,395.1 751.0,393.6 715.0,393.2Z" fill="#9a9b9e"/><path d="M715.0,391.5 751.0,391.9 779.0,393.4 809.0,396.7 838.0,401.4 866.0,407.7 891.0,415.1 914.0,423.7 936.0,434.1 955.0,445.2 972.0,457.4 988.0,471.4 1002.7,487.0 1017.0,505.0 1030.3,525.0 1042.8,547.0 1054.0,570.4 1051.0,572.0 1040.1,549.0 1028.0,527.5 1015.0,507.9 1000.9,490.0 986.0,474.1 971.0,460.9 954.0,448.6 935.0,437.4 913.0,427.0 890.0,418.3 865.0,411.0 837.0,404.7 808.0,400.0 778.0,396.8 751.0,395.3 715.0,394.9Z" fill="#97989b"/><path d="M715.0,393.2 751.0,393.6 779.0,395.1 809.0,398.4 838.0,403.2 866.0,409.5 891.5,417.0 914.0,425.6 936.0,436.0 954.7,447.0 971.3,459.0 987.0,472.8 1002.0,488.7 1016.4,507.0 1029.6,527.0 1041.5,548.0 1052.9,572.0 1049.7,573.0 1038.2,549.0 1026.4,528.0 1013.8,509.0 999.6,491.0 985.0,475.5 969.0,461.4 952.0,449.3 934.0,438.8 912.0,428.4 890.0,420.1 865.0,412.7 837.0,406.4 808.0,401.7 778.0,398.5 751.0,397.0 715.0,396.6Z" fill="#949598"/><path d="M715.0,394.9 751.0,395.3 778.0,396.8 808.0,400.0 837.0,404.7 865.0,411.0 890.0,418.3 913.0,427.0 935.0,437.4 954.0,448.6 971.0,460.9 986.0,474.1 1000.9,490.0 1015.0,507.9 1028.0,527.5 1040.1,549.0 1051.0,572.0 1048.3,574.0 1036.9,550.0 1025.1,529.0 1012.0,509.3 998.3,492.0 984.0,476.8 968.0,462.8 951.5,451.0 933.0,440.2 911.4,430.0 889.0,421.6 864.0,414.2 836.0,408.0 807.0,403.2 778.0,400.2 751.0,398.7 715.0,398.3Z" fill="#919295"/><path d="M715.0,396.6 751.0,397.0 778.0,398.5 808.0,401.7 837.0,406.4 865.0,412.7 890.0,420.1 912.0,428.4 934.0,438.8 952.0,449.3 969.0,461.4 985.0,475.5 999.6,491.0 1013.8,509.0 1026.4,528.0 1038.2,549.0 1049.7,573.0 1046.9,575.0 1035.5,551.0 1024.4,531.0 1011.9,512.0 997.8,494.0 983.0,478.2 968.0,465.0 951.0,452.7 932.7,442.0 911.0,431.7 889.0,423.4 864.0,416.0 836.0,409.7 807.0,405.0 778.0,401.9 751.0,400.4 715.0,400.0Z" fill="#8e8f92"/><path d="M715.0,398.3 751.0,398.7 778.0,400.2 807.0,403.2 836.0,408.0 864.0,414.2 889.0,421.6 911.4,430.0 933.0,440.2 951.5,451.0 968.0,462.8 984.0,476.8 998.3,492.0 1012.0,509.3 1025.1,529.0 1036.9,550.0 1048.3,574.0 1045.5,576.0 1034.2,552.0 1023.0,531.8 1010.0,512.2 996.5,495.0 982.0,479.5 967.0,466.3 950.0,454.1 932.0,443.5 910.0,433.1 888.0,424.8 863.0,417.5 836.0,411.4 807.0,406.7 778.0,403.6 751.0,402.0 715.0,401.6Z" fill="#8c8d90"/><path d="M715.0,400.0 751.0,400.4 778.0,401.9 807.0,405.0 836.0,409.7 864.0,416.0 889.0,423.4 911.0,431.7 932.7,442.0 951.0,452.7 968.0,465.0 983.0,478.2 997.8,494.0 1011.9,512.0 1024.4,531.0 1035.5,551.0 1046.9,575.0 1044.0,576.7 1032.8,553.0 1021.8,533.0 1009.0,513.6 995.2,496.0 981.0,480.9 966.0,467.7 949.0,455.4 931.0,444.9 909.0,434.5 887.0,426.3 862.0,419.0 835.0,412.9 807.0,408.4 778.0,405.3 751.0,403.7 715.0,403.3Z" fill="#898a8d"/><path d="M715.0,401.6 751.0,402.0 778.0,403.6 807.0,406.7 836.0,411.4 863.0,417.5 888.0,424.8 910.0,433.1 932.0,443.5 950.0,454.1 967.0,466.3 982.0,479.5 996.5,495.0 1010.0,512.2 1023.0,531.8 1034.2,552.0 1045.5,576.0 1042.8,578.0 1031.0,553.0 1020.0,533.2 1007.3,514.0 994.0,497.1 980.0,482.3 965.0,469.0 948.3,457.0 930.0,446.3 909.0,436.4 887.0,428.1 862.0,420.7 835.0,414.7 807.0,410.1 778.0,406.9 750.0,405.4 715.0,405.0Z" fill="#87888b"/><path d="M715.0,403.3 751.0,403.7 778.0,405.3 807.0,408.4 835.0,412.9 862.0,419.0 887.0,426.3 909.0,434.5 931.0,444.9 949.0,455.4 966.0,467.7 981.0,480.9 995.2,496.0 1009.0,513.6 1021.8,533.0 1032.8,553.0 1044.0,576.7 1040.9,578.0 1029.6,554.0 1019.0,534.7 1006.7,516.0 993.0,498.5 979.0,483.6 963.5,470.0 947.0,458.2 929.0,447.7 908.0,437.8 886.0,429.5 861.0,422.2 834.0,416.2 806.0,411.7 777.0,408.6 750.0,407.1 715.0,406.7Z" fill="#858689"/><path d="M715.0,405.0 750.0,405.4 778.0,406.9 807.0,410.1 835.0,414.7 862.0,420.7 887.0,428.1 909.0,436.4 930.0,446.3 948.3,457.0 965.0,469.0 980.0,482.3 994.0,497.1 1007.3,514.0 1020.0,533.2 1031.0,553.0 1042.8,578.0 1039.5,579.0 1028.3,555.0 1017.9,536.0 1005.4,517.0 992.0,499.9 978.0,485.0 963.0,471.7 946.7,460.0 928.0,449.1 907.0,439.2 885.0,431.0 860.0,423.7 834.0,417.9 806.0,413.4 777.0,410.3 750.0,408.8 715.0,408.4Z" fill="#838487"/><path d="M715.0,406.7 750.0,407.1 777.0,408.6 806.0,411.7 834.0,416.2 861.0,422.2 886.0,429.5 908.0,437.8 929.0,447.7 947.0,458.2 963.5,470.0 979.0,483.6 993.0,498.5 1006.7,516.0 1019.0,534.7 1029.6,554.0 1040.9,578.0 1038.0,579.8 1026.9,556.0 1016.6,537.0 1004.1,518.0 991.0,501.3 977.0,486.3 962.0,473.1 946.0,461.6 928.0,451.0 907.0,441.1 885.0,432.8 860.0,425.5 834.0,419.6 806.0,415.1 777.0,412.0 750.0,410.5 715.0,410.1Z" fill="#828386"/><path d="M715.0,408.4 750.0,408.8 777.0,410.3 806.0,413.4 834.0,417.9 860.0,423.7 885.0,431.0 907.0,439.2 928.0,449.1 946.7,460.0 963.0,471.7 978.0,485.0 992.0,499.9 1005.4,517.0 1017.9,536.0 1028.3,555.0 1039.5,579.0 1036.8,581.0 1025.1,556.0 1015.2,538.0 1003.0,519.2 990.0,502.6 976.0,487.7 961.0,474.4 945.0,462.9 927.0,452.4 906.0,442.5 884.0,434.2 859.2,427.0 833.0,421.2 805.0,416.7 777.0,413.7 750.0,412.1 715.0,411.7Z" fill="#808184"/><path d="M715.0,410.1 750.0,410.5 777.0,412.0 806.0,415.1 834.0,419.6 860.0,425.5 885.0,432.8 907.0,441.1 928.0,451.0 946.0,461.6 962.0,473.1 977.0,486.3 991.0,501.3 1004.1,518.0 1016.6,537.0 1026.9,556.0 1038.0,579.8 1035.0,581.3 1023.7,557.0 1013.9,539.0 1002.0,520.7 989.0,504.0 975.0,489.0 960.0,475.8 944.0,464.3 926.0,453.8 905.2,444.0 884.0,436.0 859.0,428.7 833.0,422.9 805.0,418.4 777.0,415.4 750.0,413.8 715.0,413.4Z" fill="#7e7f82"/><path d="M715.0,411.7 750.0,412.1 777.0,413.7 805.0,416.7 833.0,421.2 859.2,427.0 884.0,434.2 906.0,442.5 927.0,452.4 945.0,462.9 961.0,474.4 976.0,487.7 990.0,502.6 1003.0,519.2 1015.2,538.0 1025.1,556.0 1036.8,581.0 1034.0,583.0 1022.4,558.0 1012.6,540.0 1000.9,522.0 988.0,505.4 974.0,490.4 959.0,477.2 943.0,465.7 925.0,455.2 904.0,445.4 883.0,437.5 858.0,430.2 832.0,424.4 804.0,419.9 776.0,417.0 749.0,415.5 715.0,415.1Z" fill="#7c7d80"/><path d="M715.0,413.4 750.0,413.8 777.0,415.4 805.0,418.4 833.0,422.9 859.0,428.7 884.0,436.0 905.2,444.0 926.0,453.8 944.0,464.3 960.0,475.8 975.0,489.0 989.0,504.0 1002.0,520.7 1013.9,539.0 1023.7,557.0 1035.0,581.3 1032.1,583.0 1020.5,558.0 1011.0,540.5 999.0,522.1 986.4,506.0 973.0,491.7 958.0,478.5 942.0,467.0 924.0,456.6 903.5,447.0 882.0,438.9 858.0,432.0 831.1,426.0 804.0,421.6 776.0,418.7 749.0,417.2 715.0,416.8Z" fill="#7a7b7e"/><path d="M715.0,415.1 749.0,415.5 776.0,417.0 804.0,419.9 832.0,424.4 858.0,430.2 883.0,437.5 904.0,445.4 925.0,455.2 943.0,465.7 959.0,477.2 974.0,490.4 988.0,505.4 1000.9,522.0 1012.6,540.0 1022.4,558.0 1034.0,583.0 1030.7,584.0 1019.2,559.0 1010.0,542.0 998.3,524.0 985.9,508.0 972.0,493.1 957.2,480.0 941.0,468.4 924.0,458.5 903.9,449.0 882.0,440.7 858.0,433.7 832.0,427.9 804.0,423.4 776.0,420.4 749.0,418.9 715.0,418.5Z" fill="#78797c"/><path d="M715.0,416.8 749.0,417.2 776.0,418.7 804.0,421.6 831.1,426.0 858.0,432.0 882.0,438.9 903.5,447.0 924.0,456.6 942.0,467.0 958.0,478.5 973.0,491.7 986.4,506.0 999.0,522.1 1011.0,540.5 1020.5,558.0 1032.1,583.0 1029.4,585.0 1017.8,560.0 1008.7,543.0 997.0,525.0 984.6,509.0 971.0,494.4 956.0,481.2 940.3,470.0 923.0,459.9 902.0,450.1 881.0,442.2 857.0,435.2 831.0,429.4 804.0,425.1 776.0,422.1 749.0,420.6 715.0,420.2Z" fill="#76777a"/><path d="M715.0,418.5 749.0,418.9 776.0,420.4 804.0,423.4 832.0,427.9 858.0,433.7 882.0,440.7 903.9,449.0 924.0,458.5 941.0,468.4 957.2,480.0 972.0,493.1 985.9,508.0 998.3,524.0 1010.0,542.0 1019.2,559.0 1030.7,584.0 1028.0,586.0 1016.0,560.0 1007.0,543.4 995.8,526.0 983.3,510.0 970.0,495.8 955.0,482.6 939.0,471.2 922.0,461.3 902.0,451.9 881.0,444.0 857.0,437.0 831.0,431.2 804.0,426.8 776.0,423.8 749.0,422.3 715.0,421.8Z" fill="#747578"/><path d="M715.0,420.2 749.0,420.6 776.0,422.1 804.0,425.1 831.0,429.4 857.0,435.2 881.0,442.2 902.0,450.1 923.0,459.9 940.3,470.0 956.0,481.2 971.0,494.4 984.6,509.0 997.0,525.0 1008.7,543.0 1017.8,560.0 1029.4,585.0 1026.6,587.0 1014.6,561.0 1006.1,545.0 995.2,528.0 982.8,512.0 969.0,497.2 955.0,484.7 939.0,473.2 921.6,463.0 901.0,453.3 880.0,445.4 856.0,438.5 830.0,432.7 803.0,428.3 775.0,425.4 749.0,423.9 715.0,423.5Z" fill="#727376"/><path d="M715.0,421.8 749.0,422.3 776.0,423.8 804.0,426.8 831.0,431.2 857.0,437.0 881.0,444.0 902.0,451.9 922.0,461.3 939.0,471.2 955.0,482.6 970.0,495.8 983.3,510.0 995.8,526.0 1007.0,543.4 1016.0,560.0 1028.0,586.0 1025.0,587.6 1013.3,562.0 1004.8,546.0 993.9,529.0 981.5,513.0 968.0,498.5 953.0,485.3 937.2,474.0 920.0,464.1 900.0,454.7 879.0,446.9 855.0,439.9 829.0,434.2 802.0,429.9 775.0,427.1 749.0,425.6 715.0,425.2Z" fill="#6f7073"/><path d="M715.0,423.5 749.0,423.9 775.0,425.4 803.0,428.3 830.0,432.7 856.0,438.5 880.0,445.4 901.0,453.3 921.6,463.0 939.0,473.2 955.0,484.7 969.0,497.2 982.8,512.0 995.2,528.0 1006.1,545.0 1014.6,561.0 1026.6,587.0 1023.3,588.0 1011.9,563.0 1003.4,547.0 992.6,530.0 980.2,514.0 967.0,499.9 952.4,487.0 937.0,475.9 920.0,466.0 900.0,456.6 879.0,448.7 855.0,441.7 830.0,436.1 803.0,431.8 775.0,428.8 749.0,427.3 715.0,426.9Z" fill="#6d6e71"/><path d="M715.0,425.2 749.0,425.6 775.0,427.1 802.0,429.9 829.0,434.2 855.0,439.9 879.0,446.9 900.0,454.7 920.0,464.1 937.2,474.0 953.0,485.3 968.0,498.5 981.5,513.0 993.9,529.0 1004.8,546.0 1013.3,562.0 1025.0,587.6 1021.9,589.0 1010.6,564.0 1002.0,547.8 991.3,531.0 979.0,515.1 965.8,501.0 951.0,488.0 936.0,477.3 919.0,467.4 899.0,458.0 878.0,450.2 854.0,443.2 829.0,437.7 803.0,433.5 775.0,430.5 748.0,429.0 715.0,428.6Z" fill="#6b6c6f"/><path d="M715.0,426.9 749.0,427.3 775.0,428.8 803.0,431.8 830.0,436.1 855.0,441.7 879.0,448.7 900.0,456.6 920.0,466.0 937.0,475.9 952.4,487.0 967.0,499.9 980.2,514.0 992.6,530.0 1003.4,547.0 1011.9,563.0 1023.3,588.0 1020.6,590.0 1017.3,584.0 1008.7,564.0 1000.8,549.0 990.0,532.0 978.4,517.0 965.0,502.6 950.8,490.0 935.0,478.7 918.0,468.8 898.0,459.4 877.0,451.6 853.0,444.7 828.0,439.2 801.7,435.0 774.0,432.1 748.0,430.7 715.0,430.3Z" fill="#68696c"/><path d="M715.0,428.6 748.0,429.0 775.0,430.5 803.0,433.5 829.0,437.7 854.0,443.2 878.0,450.2 899.0,458.0 919.0,467.4 936.0,477.3 951.0,488.0 965.8,501.0 979.0,515.1 991.3,531.0 1002.0,547.8 1010.6,564.0 1021.9,589.0 1019.0,590.6 1015.9,585.0 1007.4,565.0 999.5,550.0 989.0,533.5 977.0,517.9 964.0,503.9 949.4,491.0 934.0,480.0 917.0,470.2 897.0,460.9 876.0,453.1 853.0,446.4 828.0,440.9 802.0,436.8 774.0,433.8 748.0,432.4 715.0,431.9Z" fill="#66676a"/><path d="M715.0,430.3 748.0,430.7 774.0,432.1 801.7,435.0 828.0,439.2 853.0,444.7 877.0,451.6 898.0,459.4 918.0,468.8 935.0,478.7 950.8,490.0 965.0,502.6 978.4,517.0 990.0,532.0 1000.8,549.0 1008.7,564.0 1017.3,584.0 1020.6,590.0 1017.8,592.0 1014.0,585.0 1006.0,565.9 998.0,550.7 987.4,534.0 976.0,519.2 963.0,505.3 949.0,492.9 933.9,482.0 916.8,472.0 897.0,462.7 876.0,454.9 853.0,448.2 828.0,442.7 802.0,438.5 774.0,435.5 748.0,434.0 715.0,433.6Z" fill="#646568"/><path d="M715.0,431.9 748.0,432.4 774.0,433.8 802.0,436.8 828.0,440.9 853.0,446.4 876.0,453.1 897.0,460.9 917.0,470.2 934.0,480.0 949.4,491.0 964.0,503.9 977.0,517.9 989.0,533.5 999.5,550.0 1007.4,565.0 1015.9,585.0 1019.0,590.6 1016.0,592.2 1012.6,586.0 1004.7,567.0 996.9,552.0 986.8,536.0 975.0,520.6 962.0,506.6 948.0,494.2 933.0,483.4 916.0,473.5 897.0,464.6 876.0,456.7 852.0,449.7 827.0,444.2 801.0,440.0 774.0,437.2 748.0,435.7 715.0,435.3Z" fill="#626366"/><path d="M715.0,433.6 748.0,434.0 774.0,435.5 802.0,438.5 828.0,442.7 853.0,448.2 876.0,454.9 897.0,462.7 916.8,472.0 933.9,482.0 949.0,492.9 963.0,505.3 976.0,519.2 987.4,534.0 998.0,550.7 1006.0,565.9 1014.0,585.0 1017.8,592.0 1014.5,593.0 1011.2,587.0 1002.8,567.0 995.6,553.0 985.5,537.0 974.0,522.0 961.0,508.0 947.0,495.6 932.0,484.8 915.0,474.9 896.0,466.0 875.0,458.1 852.0,451.4 827.0,445.9 801.0,441.7 774.0,438.9 748.0,437.4 715.0,437.0Z" fill="#606164"/><path d="M715.0,435.3 748.0,435.7 774.0,437.2 801.0,440.0 827.0,444.2 852.0,449.7 876.0,456.7 897.0,464.6 916.0,473.5 933.0,483.4 948.0,494.2 962.0,506.6 975.0,520.6 986.8,536.0 996.9,552.0 1004.7,567.0 1012.6,586.0 1016.0,592.2 1013.2,594.0 1009.4,587.0 1001.5,568.0 994.0,553.6 984.0,537.7 972.7,523.0 960.0,509.3 946.0,496.9 931.0,486.2 914.0,476.3 895.0,467.4 874.0,459.6 851.0,452.9 826.0,447.5 800.0,443.3 773.0,440.5 747.0,439.1 715.0,438.7Z" fill="#5e5f62"/><path d="M715.0,437.0 748.0,437.4 774.0,438.9 801.0,441.7 827.0,445.9 852.0,451.4 875.0,458.1 896.0,466.0 915.0,474.9 932.0,484.8 947.0,495.6 961.0,508.0 974.0,522.0 985.5,537.0 995.6,553.0 1002.8,567.0 1011.2,587.0 1014.5,593.0 1011.8,595.0 1007.9,588.0 999.7,568.0 992.4,554.0 982.2,538.0 971.4,524.0 958.3,510.0 944.6,498.0 930.0,487.5 913.0,477.7 894.0,468.8 873.0,461.0 850.0,454.4 826.0,449.2 800.0,445.0 773.0,442.2 747.0,440.8 715.0,440.4Z" fill="#5d5e61"/><path d="M715.0,438.7 747.0,439.1 773.0,440.5 800.0,443.3 826.0,447.5 851.0,452.9 874.0,459.6 895.0,467.4 914.0,476.3 931.0,486.2 946.0,496.9 960.0,509.3 972.7,523.0 984.0,537.7 994.0,553.6 1001.5,568.0 1009.4,587.0 1013.2,594.0 1010.4,596.0 1006.5,589.0 998.3,569.0 991.6,556.0 982.0,540.6 970.9,526.0 958.0,512.0 944.5,500.0 929.2,489.0 913.0,479.6 894.0,470.7 873.0,462.8 850.0,456.2 826.0,450.9 800.0,446.7 773.0,443.9 747.0,442.5 715.0,442.0Z" fill="#5b5c5f"/><path d="M715.0,440.4 747.0,440.8 773.0,442.2 800.0,445.0 826.0,449.2 850.0,454.4 873.0,461.0 894.0,468.8 913.0,477.7 930.0,487.5 944.6,498.0 958.3,510.0 971.4,524.0 982.2,538.0 992.4,554.0 999.7,568.0 1007.9,588.0 1011.8,595.0 1009.0,596.9 1004.7,589.0 996.9,570.0 990.0,556.5 980.3,541.0 969.6,527.0 957.0,513.4 943.0,501.0 928.0,490.3 912.0,481.0 892.8,472.0 872.0,464.3 849.0,457.7 825.0,452.4 800.0,448.4 773.0,445.6 747.0,444.1 715.0,443.7Z" fill="#595a5d"/><path d="M715.0,442.0 747.0,442.5 773.0,443.9 800.0,446.7 826.0,450.9 850.0,456.2 873.0,462.8 894.0,470.7 913.0,479.6 929.2,489.0 944.5,500.0 958.0,512.0 970.9,526.0 982.0,540.6 991.6,556.0 998.3,569.0 1006.5,589.0 1010.4,596.0 1007.7,598.0 1003.3,590.0 996.5,573.0 988.4,557.0 979.0,542.0 968.3,528.0 956.0,514.7 942.0,502.3 927.0,491.6 911.0,482.4 892.0,473.5 872.0,466.1 849.0,459.4 825.0,454.2 800.0,450.2 773.0,447.3 747.0,445.8 715.0,445.4Z" fill="#57585b"/><path d="M715.0,443.7 747.0,444.1 773.0,445.6 800.0,448.4 825.0,452.4 849.0,457.7 872.0,464.3 892.8,472.0 912.0,481.0 928.0,490.3 943.0,501.0 957.0,513.4 969.6,527.0 980.3,541.0 990.0,556.5 996.9,570.0 1004.7,589.0 1009.0,596.9 1006.0,598.4 1001.9,591.0 995.1,574.0 987.1,558.0 977.7,543.0 967.0,529.0 954.9,516.0 941.0,503.7 926.0,493.0 910.0,483.8 891.0,474.9 871.0,467.5 848.0,460.9 824.0,455.7 799.0,451.7 772.0,448.9 746.0,447.5 715.0,447.1Z" fill="#5a5b5e"/><path d="M715.0,445.4 747.0,445.8 773.0,447.3 800.0,450.2 825.0,454.2 849.0,459.4 872.0,466.1 892.0,473.5 911.0,482.4 927.0,491.6 942.0,502.3 956.0,514.7 968.3,528.0 979.0,542.0 988.4,557.0 996.5,573.0 1003.3,590.0 1007.7,598.0 1004.4,599.0 1000.0,591.0 993.8,575.0 985.8,559.0 976.4,544.0 966.0,530.4 953.6,517.0 940.0,505.1 925.0,494.4 909.0,485.2 890.0,476.4 870.0,469.0 848.0,462.7 824.0,457.4 799.0,453.4 772.0,450.6 746.0,449.2 715.0,448.8Z" fill="#5d5e61"/><path d="M715.0,447.1 746.0,447.5 772.0,448.9 799.0,451.7 824.0,455.7 848.0,460.9 871.0,467.5 891.0,474.9 910.0,483.8 926.0,493.0 941.0,503.7 954.9,516.0 967.0,529.0 977.7,543.0 987.1,558.0 995.1,574.0 1001.9,591.0 1006.0,598.4 1003.0,600.0 998.6,592.0 992.4,576.0 984.4,560.0 975.1,545.0 965.0,531.7 953.0,518.8 939.0,506.4 924.4,496.0 908.0,486.6 889.0,477.8 869.0,470.5 847.0,464.2 823.0,459.0 798.0,455.0 772.0,452.3 746.0,450.9 715.0,450.5Z" fill="#616265"/><path d="M715.0,448.8 746.0,449.2 772.0,450.6 799.0,453.4 824.0,457.4 848.0,462.7 870.0,469.0 890.0,476.4 909.0,485.2 925.0,494.4 940.0,505.1 953.6,517.0 966.0,530.4 976.4,544.0 985.8,559.0 993.8,575.0 1000.0,591.0 1004.4,599.0 1001.6,601.0 997.2,593.0 990.6,576.0 983.1,561.0 974.0,546.3 964.0,533.1 951.9,520.0 938.3,508.0 924.0,497.8 908.0,488.5 889.0,479.6 869.0,472.3 847.0,465.9 823.0,460.7 798.0,456.7 772.0,454.0 746.0,452.6 715.0,452.1Z" fill="#646568"/><path d="M715.0,450.5 746.0,450.9 772.0,452.3 798.0,455.0 823.0,459.0 847.0,464.2 869.0,470.5 889.0,477.8 908.0,486.6 924.4,496.0 939.0,506.4 953.0,518.8 965.0,531.7 975.1,545.0 984.4,560.0 992.4,576.0 998.6,592.0 1003.0,600.0 1000.0,601.5 995.3,593.0 989.2,577.0 981.8,562.0 973.2,548.0 963.0,534.5 951.0,521.4 938.0,509.9 923.0,499.1 907.0,489.9 889.0,481.5 869.0,474.0 847.0,467.7 823.0,462.4 798.0,458.4 772.0,455.7 746.0,454.2 715.0,453.8Z" fill="#67686b"/><path d="M715.0,452.1 746.0,452.6 772.0,454.0 798.0,456.7 823.0,460.7 847.0,465.9 869.0,472.3 889.0,479.6 908.0,488.5 924.0,497.8 938.3,508.0 951.9,520.0 964.0,533.1 974.0,546.3 983.1,561.0 990.6,576.0 997.2,593.0 1001.6,601.0 998.9,603.0 993.9,594.0 987.8,578.0 980.5,563.0 971.9,549.0 962.0,535.8 950.0,522.8 936.7,511.0 922.0,500.5 906.0,491.3 888.0,482.9 868.0,475.5 846.0,469.2 822.0,463.9 797.0,460.0 771.0,457.3 746.0,455.9 715.0,455.5Z" fill="#6b6c6f"/><path d="M715.0,453.8 746.0,454.2 772.0,455.7 798.0,458.4 823.0,462.4 847.0,467.7 869.0,474.0 889.0,481.5 907.0,489.9 923.0,499.1 938.0,509.9 951.0,521.4 963.0,534.5 973.2,548.0 981.8,562.0 989.2,577.0 995.3,593.0 1000.0,601.5 997.5,604.0 992.5,595.0 986.5,579.0 979.2,564.0 970.6,550.0 961.0,537.2 949.0,524.1 936.0,512.6 922.0,502.5 905.6,493.0 887.0,484.3 867.1,477.0 845.0,470.7 822.0,465.7 797.0,461.7 771.0,459.0 745.0,457.6 715.0,457.2Z" fill="#6f7073"/><path d="M715.0,455.5 746.0,455.9 771.0,457.3 797.0,460.0 822.0,463.9 846.0,469.2 868.0,475.5 888.0,482.9 906.0,491.3 922.0,500.5 936.7,511.0 950.0,522.8 962.0,535.8 971.9,549.0 980.5,563.0 987.8,578.0 993.9,594.0 998.9,603.0 995.6,604.0 990.7,595.0 985.1,580.0 977.8,565.0 969.3,551.0 959.5,538.0 947.5,525.0 934.0,513.2 920.0,503.2 904.0,494.1 886.0,485.8 866.0,478.4 844.0,472.2 821.0,467.2 797.0,463.4 771.0,460.7 745.0,459.3 715.0,458.9Z" fill="#727376"/><path d="M715.0,457.2 745.0,457.6 771.0,459.0 797.0,461.7 822.0,465.7 845.0,470.7 867.1,477.0 887.0,484.3 905.6,493.0 922.0,502.5 936.0,512.6 949.0,524.1 961.0,537.2 970.6,550.0 979.2,564.0 986.5,579.0 992.5,595.0 997.5,604.0 994.2,605.0 989.2,596.0 983.7,581.0 976.5,566.0 968.0,552.0 958.2,539.0 946.2,526.0 933.6,515.0 919.6,505.0 904.0,496.0 886.0,487.6 866.0,480.2 844.0,473.9 821.0,468.9 797.0,465.1 771.0,462.4 745.0,461.0 715.0,460.6Z" fill="#76777a"/><path d="M715.0,458.9 745.0,459.3 771.0,460.7 797.0,463.4 821.0,467.2 844.0,472.2 866.0,478.4 886.0,485.8 904.0,494.1 920.0,503.2 934.0,513.2 947.5,525.0 959.5,538.0 969.3,551.0 977.8,565.0 985.1,580.0 990.7,595.0 995.6,604.0 992.9,606.0 987.9,597.0 981.9,581.0 975.2,567.0 967.0,553.4 957.7,541.0 946.0,528.2 933.0,516.7 919.0,506.6 903.0,497.4 885.0,489.0 866.0,482.0 844.0,475.7 821.0,470.7 797.0,466.8 771.0,464.1 745.0,462.7 715.0,462.3Z" fill="#797a7d"/><path d="M715.0,460.6 745.0,461.0 771.0,462.4 797.0,465.1 821.0,468.9 844.0,473.9 866.0,480.2 886.0,487.6 904.0,496.0 919.6,505.0 933.6,515.0 946.2,526.0 958.2,539.0 968.0,552.0 976.5,566.0 983.7,581.0 989.2,596.0 994.2,605.0 991.5,607.0 986.0,597.0 980.5,582.0 973.9,568.0 966.0,554.9 956.4,542.0 945.0,529.5 932.0,518.0 918.0,508.0 902.0,498.8 884.0,490.5 865.0,483.5 843.0,477.2 820.0,472.2 796.0,468.4 770.0,465.7 745.0,464.3 715.0,463.9Z" fill="#7e7f82"/><path d="M715.0,462.3 745.0,462.7 771.0,464.1 797.0,466.8 821.0,470.7 844.0,475.7 866.0,482.0 885.0,489.0 903.0,497.4 919.0,506.6 933.0,516.7 946.0,528.2 957.7,541.0 967.0,553.4 975.2,567.0 981.9,581.0 987.9,597.0 992.9,606.0 990.0,607.8 984.6,598.0 978.7,582.0 972.0,568.0 964.1,555.0 955.1,543.0 944.0,530.9 931.0,519.4 917.0,509.4 901.0,500.2 883.0,491.9 864.0,484.9 843.0,478.9 820.0,473.9 796.0,470.1 770.0,467.4 745.0,466.0 715.0,465.6Z" fill="#838487"/><path d="M715.0,463.9 745.0,464.3 770.0,465.7 796.0,468.4 820.0,472.2 843.0,477.2 865.0,483.5 884.0,490.5 902.0,498.8 918.0,508.0 932.0,518.0 945.0,529.5 956.4,542.0 966.0,554.9 973.9,568.0 980.5,582.0 986.0,597.0 991.5,607.0 988.8,609.0 983.0,598.5 977.4,583.0 970.7,569.0 962.8,556.0 954.0,544.2 942.8,532.0 930.0,520.7 916.0,510.7 901.0,502.1 883.0,493.7 864.0,486.7 843.0,480.7 820.0,475.6 796.0,471.8 770.0,469.1 744.0,467.7 715.0,467.3Z" fill="#88898c"/><path d="M715.0,465.6 745.0,466.0 770.0,467.4 796.0,470.1 820.0,473.9 843.0,478.9 864.0,484.9 883.0,491.9 901.0,500.2 917.0,509.4 931.0,519.4 944.0,530.9 955.1,543.0 964.1,555.0 972.0,568.0 978.7,582.0 984.6,598.0 990.0,607.8 986.8,609.0 981.3,599.0 976.0,584.0 969.4,570.0 962.0,557.7 953.0,545.6 942.0,533.5 929.0,522.1 915.0,512.1 900.0,503.5 882.0,495.1 863.0,488.2 842.0,482.2 819.0,477.2 795.0,473.4 770.0,470.8 744.0,469.4 715.0,469.0Z" fill="#8d8e91"/><path d="M715.0,467.3 744.0,467.7 770.0,469.1 796.0,471.8 820.0,475.6 843.0,480.7 864.0,486.7 883.0,493.7 901.0,502.1 916.0,510.7 930.0,520.7 942.8,532.0 954.0,544.2 962.8,556.0 970.7,569.0 977.4,583.0 983.0,598.5 988.8,609.0 985.5,610.0 979.9,600.0 974.6,585.0 968.0,571.0 960.9,559.0 952.0,546.9 941.0,534.9 928.0,523.4 914.0,513.5 899.0,504.9 881.0,496.6 862.0,489.6 841.0,483.7 819.0,478.9 795.0,475.1 770.0,472.5 744.0,471.1 715.0,470.7Z" fill="#929396"/><path d="M715.0,469.0 744.0,469.4 770.0,470.8 795.0,473.4 819.0,477.2 842.0,482.2 863.0,488.2 882.0,495.1 900.0,503.5 915.0,512.1 929.0,522.1 942.0,533.5 953.0,545.6 962.0,557.7 969.4,570.0 976.0,584.0 981.3,599.0 986.8,609.0 984.0,610.9 978.1,600.0 973.2,586.0 966.7,572.0 959.6,560.0 950.7,548.0 939.8,536.0 927.0,524.8 913.0,514.8 898.0,506.3 880.0,498.0 861.0,491.1 840.0,485.2 818.0,480.4 794.0,476.7 769.0,474.1 744.0,472.7 715.0,472.4Z" fill="#97989b"/><path d="M715.0,470.7 744.0,471.1 770.0,472.5 795.0,475.1 819.0,478.9 841.0,483.7 862.0,489.6 881.0,496.6 899.0,504.9 914.0,513.5 928.0,523.4 941.0,534.9 952.0,546.9 960.9,559.0 968.0,571.0 974.6,585.0 979.9,600.0 985.5,610.0 982.7,612.0 976.6,601.0 971.8,587.0 965.4,573.0 958.0,560.5 949.4,549.0 938.4,537.0 926.0,526.1 913.0,516.8 897.7,508.0 880.0,499.8 861.0,492.9 840.0,486.9 818.0,482.2 794.0,478.4 769.0,475.8 743.0,474.4 715.0,474.0Z" fill="#9c9da0"/><path d="M715.0,472.4 744.0,472.7 769.0,474.1 794.0,476.7 818.0,480.4 840.0,485.2 861.0,491.1 880.0,498.0 898.0,506.3 913.0,514.8 927.0,524.8 939.8,536.0 950.7,548.0 959.6,560.0 966.7,572.0 973.2,586.0 978.1,600.0 984.0,610.9 981.0,612.4 975.2,602.0 970.1,587.0 964.0,573.9 957.0,562.0 948.1,550.0 937.1,538.0 925.0,527.4 911.0,517.6 896.0,509.1 879.0,501.3 860.0,494.4 839.0,488.4 817.0,483.7 794.0,480.1 769.0,477.5 743.0,476.1 715.0,475.7Z" fill="#a2a3a6"/><path d="M715.0,474.0 743.0,474.4 769.0,475.8 794.0,478.4 818.0,482.2 840.0,486.9 861.0,492.9 880.0,499.8 897.7,508.0 913.0,516.8 926.0,526.1 938.4,537.0 949.4,549.0 958.0,560.5 965.4,573.0 971.8,587.0 976.6,601.0 982.7,612.0 980.0,614.0 973.4,602.0 968.7,588.0 962.7,575.0 955.7,563.0 947.7,552.0 937.0,540.2 925.0,529.6 911.0,519.6 896.0,511.0 879.0,503.1 860.0,496.1 839.0,490.2 817.0,485.4 794.0,481.8 769.0,479.2 743.0,477.8 715.0,477.4Z" fill="#a8a9ac"/><path d="M715.0,475.7 743.0,476.1 769.0,477.5 794.0,480.1 817.0,483.7 839.0,488.4 860.0,494.4 879.0,501.3 896.0,509.1 911.0,517.6 925.0,527.4 937.1,538.0 948.1,550.0 957.0,562.0 964.0,573.9 970.1,587.0 975.2,602.0 981.0,612.4 978.6,615.0 972.0,603.0 967.3,589.0 961.4,576.0 954.4,564.0 946.4,553.0 936.0,541.6 924.0,530.9 910.1,521.0 895.0,512.4 878.0,504.5 859.0,497.6 839.0,491.9 817.0,487.1 794.0,483.5 769.0,480.9 743.0,479.5 715.0,479.1Z" fill="#aeafb2"/><path d="M715.0,477.4 743.0,477.8 769.0,479.2 794.0,481.8 817.0,485.4 839.0,490.2 860.0,496.1 879.0,503.1 896.0,511.0 911.0,519.6 925.0,529.6 937.0,540.2 947.7,552.0 955.7,563.0 962.7,575.0 968.7,588.0 973.4,602.0 980.0,614.0 976.7,615.0 970.6,604.0 965.5,589.0 960.0,576.8 953.1,565.0 945.0,553.9 935.0,542.9 922.7,532.0 909.0,522.3 894.0,513.8 877.0,506.0 858.0,499.1 838.0,493.4 816.0,488.7 793.0,485.1 768.0,482.5 743.0,481.2 715.0,480.8Z" fill="#b4b5b8"/><path d="M715.0,479.1 743.0,479.5 769.0,480.9 794.0,483.5 817.0,487.1 839.0,491.9 859.0,497.6 878.0,504.5 895.0,512.4 910.1,521.0 924.0,530.9 936.0,541.6 946.4,553.0 954.4,564.0 961.4,576.0 967.3,589.0 972.0,603.0 978.6,615.0 975.3,616.0 968.7,604.0 964.1,590.0 958.2,577.0 951.8,566.0 943.8,555.0 933.0,543.3 921.2,533.0 908.0,523.7 893.0,515.2 876.0,507.4 858.0,500.9 838.0,495.2 816.0,490.4 793.0,486.8 768.0,484.2 742.0,482.8 715.0,482.5Z" fill="#bbbcbf"/><path d="M715.0,480.8 743.0,481.2 768.0,482.5 793.0,485.1 816.0,488.7 838.0,493.4 858.0,499.1 877.0,506.0 894.0,513.8 909.0,522.3 922.7,532.0 935.0,542.9 945.0,553.9 953.1,565.0 960.0,576.8 965.5,589.0 970.6,604.0 976.7,615.0 973.9,617.0 967.3,605.0 962.7,591.0 956.9,578.0 950.5,567.0 942.5,556.0 932.4,545.0 921.0,535.0 908.0,525.7 892.9,517.0 876.0,509.2 857.0,502.3 837.0,496.7 816.0,492.1 792.0,488.4 768.0,485.9 743.0,484.5 715.0,484.1Z" fill="#c3c4c7"/><path d="M715.0,482.5 742.0,482.8 768.0,484.2 793.0,486.8 816.0,490.4 838.0,495.2 858.0,500.9 876.0,507.4 893.0,515.2 908.0,523.7 921.2,533.0 933.0,543.3 943.8,555.0 951.8,566.0 958.2,577.0 964.1,590.0 968.7,604.0 975.3,616.0 972.5,618.0 965.9,606.0 961.3,592.0 955.6,579.0 949.2,568.0 942.0,558.0 932.0,546.9 920.0,536.3 906.9,527.0 892.0,518.5 875.0,510.7 856.7,504.0 837.0,498.4 815.0,493.7 792.0,490.1 768.0,487.6 742.0,486.2 715.0,485.8Z" fill="#cbcccf"/><path d="M715.0,484.1 743.0,484.5 768.0,485.9 792.0,488.4 816.0,492.1 837.0,496.7 857.0,502.3 876.0,509.2 892.9,517.0 908.0,525.7 921.0,535.0 932.4,545.0 942.5,556.0 950.5,567.0 956.9,578.0 962.7,591.0 967.3,605.0 973.9,617.0 966.6,621.0 959.4,608.0 955.0,594.0 949.7,582.0 943.9,572.0 936.7,562.0 927.0,551.3 916.0,541.6 903.0,532.4 889.0,524.4 873.0,517.1 855.0,510.5 835.0,504.8 814.0,500.3 791.0,496.7 767.0,494.3 742.0,492.9 715.0,492.5Z" fill="#cfd0d3"/><path d="M715.0,485.8 742.0,486.2 768.0,487.6 792.0,490.1 815.0,493.7 837.0,498.4 856.7,504.0 875.0,510.7 892.0,518.5 906.9,527.0 920.0,536.3 932.0,546.9 942.0,558.0 949.2,568.0 955.6,579.0 961.3,592.0 965.9,606.0 972.5,618.0 966.6,621.0 959.4,608.0 955.0,594.0 949.7,582.0 943.9,572.0 936.7,562.0 927.0,551.3 916.0,541.6 903.0,532.4 889.0,524.4 873.0,517.1 855.0,510.5 835.0,504.8 814.0,500.3 791.0,496.7 767.0,494.3 742.0,492.9 715.0,492.5Z" fill="#d3d4d7"/></g>
<path d="M655,285.5 L745,285.5 C817.4,285.5 896.9,301.1 947.9,321.8 C1049.2,362.8 1088.2,420.5 1141,508" fill="none" stroke="#231f20" stroke-width="5.0" stroke-linejoin="round" />
<path d="M655,487.5 L720,487.5 C807.7,487.5 938,504.5 964.6,609" fill="none" stroke="#231f20" stroke-width="5.0" stroke-linejoin="round" />
<g transform="translate(893.7,666.3) rotate(-30.1)"><path d="M0.0,0.0 Q57,-3 113.6,1.6 L113.6,229.8 Q56,241 1.2,231.4 Z" fill="url(#nL)"/><path d="M113.6,1.6 Q210,-12 306.0,3.4 L305.4,228.5 Q209,245.8 113.6,229.8 Z" fill="url(#nM)"/><path d="M306.0,3.4 Q353,-5 400.0,0.5 L400.0,233.1 Q352,236.2 305.4,228.5 Z" fill="url(#nR)"/><path d="M0,0 C4,-11 35,-15.5 90,-16.5 L300,-17 C355,-17 390,-13 400,0.5 Q353,-5 306.0,3.4 Q210,-12 113.6,1.6 Q57,-3 0,0 Z" fill="url(#nCh)"/><path d="M400.0,233.1 L386.0,240.5 L370.0,245.0 L355.0,247.0 L325.0,248.5 L290.0,250.0 L250.0,251.5 L210.0,252.0 L170.0,251.0 L120.0,248.0 L80.0,246.0 L55.0,244.0 L30.0,241.0 L15.0,238.0 L1.2,231.4 Q56,241 113.6,229.8 Q209,245.8 305.4,228.5 Q352,236.2 400,233.1 Z" fill="#d3d3d4"/><path d="M0,0 C4,-11 35,-15.5 90,-16.5 L300,-17 C355,-17 390,-13 400,0.5 L400,233.1 L386.0,240.5 L370.0,245.0 L355.0,247.0 L325.0,248.5 L290.0,250.0 L250.0,251.5 L210.0,252.0 L170.0,251.0 L120.0,248.0 L80.0,246.0 L55.0,244.0 L30.0,241.0 L15.0,238.0 L1.2,231.4 Z" fill="none" stroke="#231f20" stroke-width="5.0" stroke-linejoin="round" /><path d="M0.0,0.0 Q57,-3 113.6,1.6 Q210,-12 306.0,3.4 Q353,-5 400.0,0.5" fill="none" stroke="#231f20" stroke-width="5.0" stroke-linejoin="round" /><path d="M1.2,231.4 Q56,241 113.6,229.8 Q209,245.8 305.4,228.5 Q352,236.2 400.0,233.1" fill="none" stroke="#231f20" stroke-width="5.0" stroke-linejoin="round" /><path d="M113.6,1.6 L113.6,229.8 M306.0,3.4 L305.4,228.5" fill="none" stroke="#231f20" stroke-width="5.0" stroke-linejoin="round" /></g>
<rect x="125" y="295.5" width="265" height="190" fill="url(#groove)"/>
<path d="M125,295.5 L390,295.5 M125,485.5 L390,485.5" fill="none" stroke="#231f20" stroke-width="5.0" stroke-linejoin="round" />
<path d="M2.6,300 Q2.6,294.5 7,293.3 L72,279.3 Q76,278.8 80,279 L123.5,279.8 Q128.7,280 128.7,285 L128.7,496.5 Q128.7,501.7 123.5,501.7 L80,501.8 Q76,501.8 72,501 L7,487.8 Q2.6,486.8 2.6,481 Z" fill="url(#cyl)" stroke="#231f20" stroke-width="5.0" stroke-linejoin="round" />
<rect x="150.5" y="279.5" width="38.5" height="222.2" rx="5" ry="5" fill="url(#cyl)" stroke="#231f20" stroke-width="5.0"/>
<rect x="208.5" y="279.5" width="38.19999999999999" height="222.2" rx="5" ry="5" fill="url(#cyl)" stroke="#231f20" stroke-width="5.0"/>
<rect x="266" y="279.5" width="38.5" height="222.2" rx="5" ry="5" fill="url(#cyl)" stroke="#231f20" stroke-width="5.0"/>
<path d="M323.7,295.5 L359.8,271 L359.8,510.5 L323.7,485.5 Z" fill="url(#cyl)" stroke="#231f20" stroke-width="5.0" stroke-linejoin="round" />
<path d="M452,279.6 L393,279.6 Q387.8,279.6 387.8,285 L387.8,496.5 Q387.8,501.7 393,501.7 L452,501.7" fill="url(#cyl)" stroke="#231f20" stroke-width="5.0" stroke-linejoin="round" />
<rect x="503" y="280" width="75" height="219.7" fill="url(#groove)"/>
<path d="M503,280 L578,280 M503,499.7 L578,499.7" fill="none" stroke="#231f20" stroke-width="5.0" stroke-linejoin="round" />
<path d="M450.9,257 L465.7,229.6 L465.7,544.6 L450.9,524 Z" fill="url(#wCham)"/>
<rect x="465.7" y="229.6" width="39.2" height="58.4" fill="url(#wTop)"/>
<rect x="465.7" y="288" width="39.2" height="13.8" fill="#e9e9ea"/>
<rect x="465.7" y="301.8" width="39.2" height="82.5" fill="url(#wMid1)"/>
<rect x="465.7" y="384.3" width="39.2" height="14.3" fill="#eeeeee"/>
<rect x="465.7" y="398.6" width="39.2" height="93.4" fill="url(#wMid2)"/>
<rect x="465.7" y="492" width="39.2" height="13.2" fill="#e9e9ea"/>
<rect x="465.7" y="505.2" width="39.2" height="39.4" fill="url(#wBot)"/>
<path d="M450.9,257 L465.7,229.6 L504.9,229.6 L504.9,544.6 L465.7,544.6 L450.9,524 Z" fill="none" stroke="#231f20" stroke-width="5.0" stroke-linejoin="round" />
<path d="M465.7,229.6 L465.7,544.6 M465.7,288 L504.9,288 M465.7,301.8 L504.9,301.8 M465.7,384.3 L504.9,384.3 M465.7,398.6 L504.9,398.6 M465.7,492 L504.9,492 M465.7,505.2 L504.9,505.2" fill="none" stroke="#231f20" stroke-width="5.0" stroke-linejoin="round" />
<path d="M581,227.2 L659,227.2 Q664.5,245 664.5,272 L664.5,515 Q664.5,535 658,548.7 L581.4,548.7 Q575,532 575,515 L575,272 Q575,245 581,227.2 Z" fill="url(#hSide)" stroke="none" stroke-width="0" stroke-linejoin="round" />
<path d="M583,229 Q580,265 584.8,302.4 L655.2,302.4 Q659,265 656,229 Z" fill="url(#hTop)"/>
<path d="M584.8,302.4 Q573,380 584.8,457.9 L655.2,457.9 Q665,380 655.2,302.4 Z" fill="url(#hMid)"/>
<path d="M584.8,457.9 Q574,505 583,547 L656,547 Q663.5,505 655.2,457.9 Z" fill="url(#hBot)"/>
<path d="M581,227.2 L659,227.2 Q664.5,245 664.5,272 L664.5,515 Q664.5,535 658,548.7 L581.4,548.7 Q575,532 575,515 L575,272 Q575,245 581,227.2 Z" fill="none" stroke="#231f20" stroke-width="5.0" stroke-linejoin="round" />
<path d="M583,229 Q580,265 584.8,302.4 Q573,380 584.8,457.9 Q574,505 583,547" fill="none" stroke="#231f20" stroke-width="5.0" stroke-linejoin="round" />
<path d="M656,229 Q659,265 655.2,302.4 Q665,380 655.2,457.9 Q663.5,505 656,547" fill="none" stroke="#231f20" stroke-width="5.0" stroke-linejoin="round" />
<path d="M584.8,302.4 L655.2,302.4 M584.8,457.9 L655.2,457.9" fill="none" stroke="#231f20" stroke-width="5.0" stroke-linejoin="round" />
<line x1="5.2" y1="2.5" x2="5.2" y2="275.5" stroke="#231f20" stroke-width="4.2" stroke-linecap="round"/>
<line x1="55" y1="34.9" x2="520.7" y2="34.9" stroke="#231f20" stroke-width="4.2" stroke-linecap="butt"/>
<line x1="621" y1="34.9" x2="1113" y2="34.9" stroke="#231f20" stroke-width="4.2" stroke-linecap="butt"/>
<path d="M6.5,31 L59.6,8.25 Q48.1,31 59.6,53.75 Z" fill="#231f20"/>
<path d="M1157.5,31 L1105.9,8.25 Q1117.4,31 1105.9,53.75 Z" fill="#231f20"/>
<line x1="1159.2" y1="2.5" x2="1159.2" y2="467.3" stroke="#231f20" stroke-width="4.2" stroke-linecap="round"/>
<line x1="448" y1="131.9" x2="448" y2="230.7" stroke="#231f20" stroke-width="4.2" stroke-linecap="round"/>
<line x1="497" y1="136.6" x2="729" y2="136.6" stroke="#231f20" stroke-width="4.2" stroke-linecap="butt"/>
<line x1="837" y1="136.6" x2="1113" y2="136.6" stroke="#231f20" stroke-width="4.2" stroke-linecap="butt"/>
<path d="M449.8,136.7 L501.7,114.1 Q490.2,136.7 501.7,159.29999999999998 Z" fill="#231f20"/>
<path d="M1157.5,136.6 L1105.9,113.85 Q1117.4,136.6 1105.9,159.35 Z" fill="#231f20"/>
<line x1="1261" y1="389.4" x2="1446.3" y2="389.4" stroke="#231f20" stroke-width="4.2" stroke-linecap="round"/>
<line x1="1382.5" y1="660.8" x2="1446.3" y2="660.8" stroke="#231f20" stroke-width="4.2" stroke-linecap="round"/>
<line x1="1416.5" y1="452" x2="1416.5" y2="486.6" stroke="#231f20" stroke-width="4.2" stroke-linecap="round"/>
<line x1="1416.5" y1="567.5" x2="1416.5" y2="604" stroke="#231f20" stroke-width="4.2" stroke-linecap="round"/>
<path d="M1416.5,400 L1393.75,456.6 Q1416.5,443.6 1439.25,456.6 Z" fill="#231f20"/>
<path d="M1416.5,653.5 L1393.75,600 Q1416.5,613.0 1439.25,600 Z" fill="#231f20"/>
<text x="555.7" y="55.9" font-family="Liberation Sans, sans-serif" font-size="77" fill="#231f20">L</text>
<text x="754.6" y="166" font-family="Liberation Sans, sans-serif" font-size="77" fill="#231f20">C</text>
<text x="1394.3" y="552.5" font-family="Liberation Sans, sans-serif" font-size="77" fill="#231f20">T</text>
<text x="817.7" y="856.6" font-family="Liberation Sans, sans-serif" font-size="77" fill="#231f20">H</text>
<text x="870.6" y="856.6" font-family="Liberation Sans, sans-serif" font-size="77" fill="#231f20">2</text>
</svg>
</body></html>
